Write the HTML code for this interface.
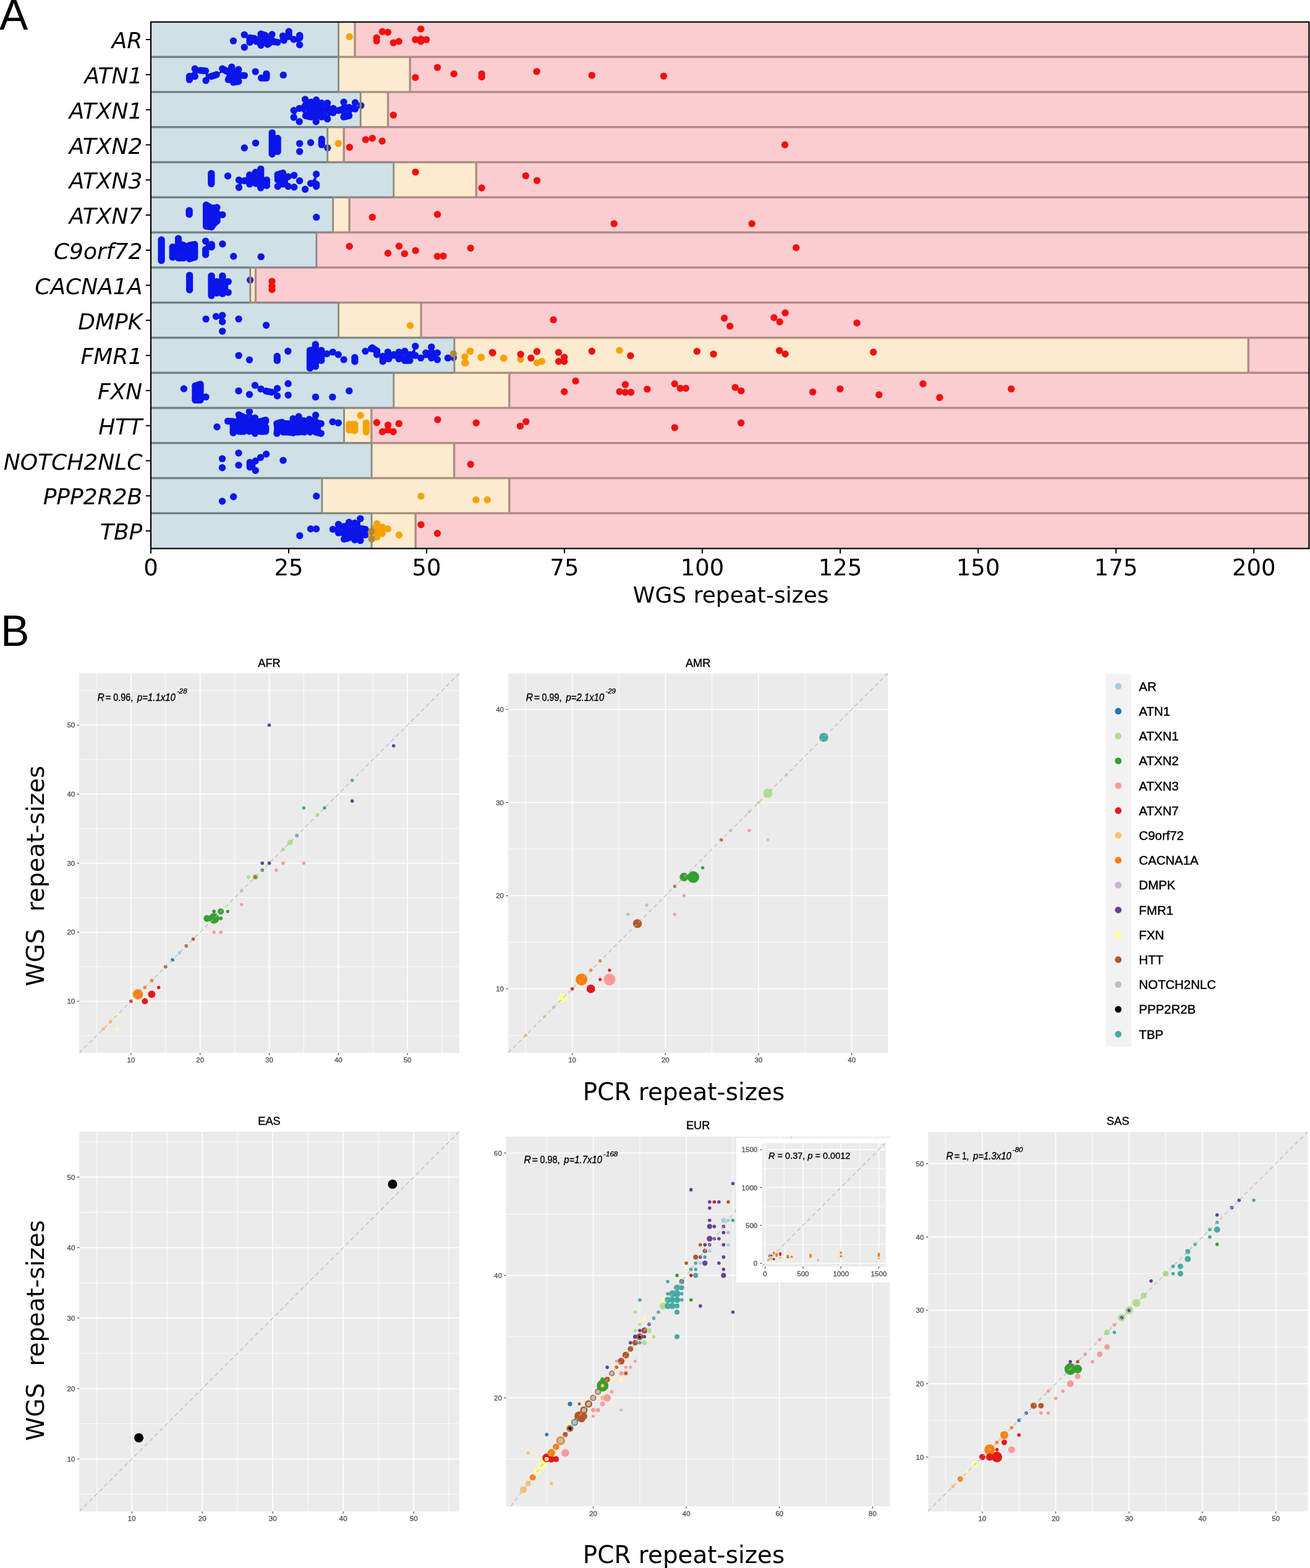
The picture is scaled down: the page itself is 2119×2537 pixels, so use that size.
<!DOCTYPE html>
<html><head><meta charset="utf-8"><title>Repeat sizes figure</title>
<style>
html,body{margin:0;padding:0;background:#fff;}
body{width:2119px;height:2537px;overflow:hidden;}
svg{display:block;}
.ylab{font-family:"DejaVu Sans",sans-serif;font-style:oblique;font-size:36.0px;fill:#000;}
.xtl{font-family:"DejaVu Sans",sans-serif;font-size:37px;fill:#000;}
.xlab{font-family:"DejaVu Sans",sans-serif;font-size:36px;fill:#000;}
.plab{font-family:"Liberation Sans",Arial,sans-serif;font-size:69.6px;fill:#000;}
.btick{font-family:"Liberation Sans",Arial,sans-serif;font-size:11.5px;fill:#4d4d4d;stroke:#4d4d4d;stroke-width:0.3px;}
.btitle{font-family:"Liberation Sans",Arial,sans-serif;font-size:18.3px;fill:#000;stroke:#000;stroke-width:0.4px;}
.bigl{font-family:"DejaVu Sans",sans-serif;font-size:38.9px;fill:#000;}
.ann{font-family:"Liberation Sans",Arial,sans-serif;font-size:15.7px;fill:#000;stroke:#000;stroke-width:0.35px;}
.itick{font-family:"Liberation Sans",Arial,sans-serif;font-size:11.6px;fill:#4d4d4d;stroke:#4d4d4d;stroke-width:0.3px;}
.iann{font-family:"Liberation Sans",Arial,sans-serif;font-size:14.5px;fill:#000;stroke:#000;stroke-width:0.35px;}
.leg{font-family:"Liberation Sans",Arial,sans-serif;font-size:20.4px;fill:#000;stroke:#000;stroke-width:0.45px;}
</style></head>
<body><svg width="2119" height="2537" viewBox="0 0 2119 2537">
<g id="panelA">
<rect x="244.00" y="35.60" width="303.31" height="56.79" fill="#cfe0e6"/>
<rect x="547.31" y="35.60" width="26.76" height="56.79" fill="#fcebcf"/>
<rect x="574.08" y="35.60" width="1543.33" height="56.79" fill="#facdd1"/>
<rect x="244.00" y="92.39" width="303.31" height="56.79" fill="#cfe0e6"/>
<rect x="547.31" y="92.39" width="115.97" height="56.79" fill="#fcebcf"/>
<rect x="663.29" y="92.39" width="1454.12" height="56.79" fill="#facdd1"/>
<rect x="244.00" y="149.18" width="339.00" height="56.79" fill="#cfe0e6"/>
<rect x="583.00" y="149.18" width="44.60" height="56.79" fill="#fcebcf"/>
<rect x="627.60" y="149.18" width="1489.81" height="56.79" fill="#facdd1"/>
<rect x="244.00" y="205.97" width="285.47" height="56.79" fill="#cfe0e6"/>
<rect x="529.47" y="205.97" width="26.76" height="56.79" fill="#fcebcf"/>
<rect x="556.23" y="205.97" width="1561.17" height="56.79" fill="#facdd1"/>
<rect x="244.00" y="262.76" width="392.52" height="56.79" fill="#cfe0e6"/>
<rect x="636.52" y="262.76" width="133.81" height="56.79" fill="#fcebcf"/>
<rect x="770.34" y="262.76" width="1347.07" height="56.79" fill="#facdd1"/>
<rect x="244.00" y="319.55" width="294.39" height="56.79" fill="#cfe0e6"/>
<rect x="538.39" y="319.55" width="26.76" height="56.79" fill="#fcebcf"/>
<rect x="565.16" y="319.55" width="1552.25" height="56.79" fill="#facdd1"/>
<rect x="244.00" y="376.34" width="267.63" height="56.79" fill="#cfe0e6"/>
<rect x="511.63" y="376.34" width="1605.78" height="56.79" fill="#facdd1"/>
<rect x="244.00" y="433.13" width="160.58" height="56.79" fill="#cfe0e6"/>
<rect x="404.58" y="433.13" width="8.92" height="56.79" fill="#fcebcf"/>
<rect x="413.50" y="433.13" width="1703.91" height="56.79" fill="#facdd1"/>
<rect x="244.00" y="489.92" width="303.31" height="56.79" fill="#cfe0e6"/>
<rect x="547.31" y="489.92" width="133.81" height="56.79" fill="#fcebcf"/>
<rect x="681.13" y="489.92" width="1436.28" height="56.79" fill="#facdd1"/>
<rect x="244.00" y="546.71" width="490.65" height="56.79" fill="#cfe0e6"/>
<rect x="734.65" y="546.71" width="1284.62" height="56.79" fill="#fcebcf"/>
<rect x="2019.28" y="546.71" width="98.13" height="56.79" fill="#facdd1"/>
<rect x="244.00" y="603.50" width="392.52" height="56.79" fill="#cfe0e6"/>
<rect x="636.52" y="603.50" width="187.34" height="56.79" fill="#fcebcf"/>
<rect x="823.87" y="603.50" width="1293.54" height="56.79" fill="#facdd1"/>
<rect x="244.00" y="660.29" width="312.23" height="56.79" fill="#cfe0e6"/>
<rect x="556.23" y="660.29" width="44.60" height="56.79" fill="#fcebcf"/>
<rect x="600.84" y="660.29" width="1516.57" height="56.79" fill="#facdd1"/>
<rect x="244.00" y="717.08" width="356.84" height="56.79" fill="#cfe0e6"/>
<rect x="600.84" y="717.08" width="133.81" height="56.79" fill="#fcebcf"/>
<rect x="734.65" y="717.08" width="1382.75" height="56.79" fill="#facdd1"/>
<rect x="244.00" y="773.87" width="276.55" height="56.79" fill="#cfe0e6"/>
<rect x="520.55" y="773.87" width="303.31" height="56.79" fill="#fcebcf"/>
<rect x="823.87" y="773.87" width="1293.54" height="56.79" fill="#facdd1"/>
<rect x="244.00" y="830.66" width="356.84" height="56.79" fill="#cfe0e6"/>
<rect x="600.84" y="830.66" width="71.37" height="56.79" fill="#fcebcf"/>
<rect x="672.21" y="830.66" width="1445.20" height="56.79" fill="#facdd1"/>
<circle cx="377.4" cy="66.1" r="5.7" fill="#0a16ea"/>
<circle cx="395.3" cy="56.1" r="5.7" fill="#0a16ea"/>
<circle cx="395.3" cy="76.5" r="5.7" fill="#0a16ea"/>
<circle cx="404.1" cy="61.3" r="5.7" fill="#0a16ea"/>
<circle cx="404.1" cy="68.5" r="5.7" fill="#0a16ea"/>
<circle cx="411.3" cy="62.1" r="5.7" fill="#0a16ea"/>
<circle cx="414.5" cy="66.9" r="5.7" fill="#0a16ea"/>
<circle cx="422.1" cy="55.0" r="5.7" fill="#0a16ea"/>
<circle cx="422.1" cy="73.3" r="5.7" fill="#0a16ea"/>
<circle cx="422.5" cy="68.5" r="5.7" fill="#0a16ea"/>
<circle cx="428.8" cy="57.3" r="5.7" fill="#0a16ea"/>
<circle cx="428.8" cy="66.9" r="5.7" fill="#0a16ea"/>
<circle cx="432.8" cy="71.7" r="5.7" fill="#0a16ea"/>
<circle cx="440.0" cy="55.8" r="5.7" fill="#0a16ea"/>
<circle cx="440.0" cy="66.9" r="5.7" fill="#0a16ea"/>
<circle cx="448.8" cy="68.5" r="5.7" fill="#0a16ea"/>
<circle cx="457.6" cy="58.1" r="5.7" fill="#0a16ea"/>
<circle cx="459.2" cy="65.3" r="5.7" fill="#0a16ea"/>
<circle cx="467.2" cy="51.0" r="5.7" fill="#0a16ea"/>
<circle cx="467.2" cy="58.9" r="5.7" fill="#0a16ea"/>
<circle cx="475.1" cy="63.7" r="5.7" fill="#0a16ea"/>
<circle cx="484.7" cy="57.3" r="5.7" fill="#0a16ea"/>
<circle cx="484.7" cy="61.3" r="5.7" fill="#0a16ea"/>
<circle cx="484.7" cy="72.5" r="5.7" fill="#0a16ea"/>
<circle cx="306.4" cy="128.9" r="5.7" fill="#0a16ea"/>
<circle cx="306.4" cy="123.5" r="5.7" fill="#0a16ea"/>
<circle cx="315.3" cy="111.2" r="5.7" fill="#0a16ea"/>
<circle cx="315.3" cy="123.5" r="5.7" fill="#0a16ea"/>
<circle cx="324.2" cy="113.9" r="5.7" fill="#0a16ea"/>
<circle cx="332.4" cy="114.6" r="5.7" fill="#0a16ea"/>
<circle cx="333.1" cy="130.3" r="5.7" fill="#0a16ea"/>
<circle cx="342.0" cy="123.5" r="5.7" fill="#0a16ea"/>
<circle cx="350.2" cy="120.7" r="5.7" fill="#0a16ea"/>
<circle cx="359.8" cy="111.2" r="5.7" fill="#0a16ea"/>
<circle cx="366.6" cy="115.3" r="5.7" fill="#0a16ea"/>
<circle cx="369.4" cy="128.9" r="5.7" fill="#0a16ea"/>
<circle cx="374.8" cy="108.4" r="5.7" fill="#0a16ea"/>
<circle cx="377.6" cy="119.4" r="5.7" fill="#0a16ea"/>
<circle cx="377.6" cy="133.1" r="5.7" fill="#0a16ea"/>
<circle cx="385.8" cy="112.5" r="5.7" fill="#0a16ea"/>
<circle cx="385.8" cy="131.7" r="5.7" fill="#0a16ea"/>
<circle cx="387.2" cy="122.1" r="5.7" fill="#0a16ea"/>
<circle cx="395.4" cy="122.1" r="5.7" fill="#0a16ea"/>
<circle cx="372.1" cy="123.5" r="5.7" fill="#0a16ea"/>
<circle cx="380.3" cy="124.8" r="5.7" fill="#0a16ea"/>
<circle cx="413.2" cy="115.9" r="5.7" fill="#0a16ea"/>
<circle cx="422.7" cy="126.2" r="5.7" fill="#0a16ea"/>
<circle cx="430.9" cy="119.4" r="5.7" fill="#0a16ea"/>
<circle cx="430.9" cy="126.2" r="5.7" fill="#0a16ea"/>
<circle cx="458.3" cy="121.4" r="5.7" fill="#0a16ea"/>
<circle cx="475.2" cy="178.8" r="5.7" fill="#0a16ea"/>
<circle cx="475.2" cy="189.9" r="5.7" fill="#0a16ea"/>
<circle cx="484.2" cy="175.4" r="5.7" fill="#0a16ea"/>
<circle cx="484.2" cy="196.8" r="5.7" fill="#0a16ea"/>
<circle cx="493.6" cy="160.8" r="5.7" fill="#0a16ea"/>
<circle cx="494.5" cy="172.0" r="5.7" fill="#0a16ea"/>
<circle cx="494.5" cy="187.3" r="5.7" fill="#0a16ea"/>
<circle cx="503.0" cy="165.1" r="5.7" fill="#0a16ea"/>
<circle cx="503.0" cy="177.9" r="5.7" fill="#0a16ea"/>
<circle cx="503.0" cy="189.1" r="5.7" fill="#0a16ea"/>
<circle cx="511.6" cy="161.7" r="5.7" fill="#0a16ea"/>
<circle cx="511.6" cy="173.7" r="5.7" fill="#0a16ea"/>
<circle cx="511.6" cy="184.8" r="5.7" fill="#0a16ea"/>
<circle cx="511.2" cy="196.8" r="5.7" fill="#0a16ea"/>
<circle cx="520.1" cy="166.8" r="5.7" fill="#0a16ea"/>
<circle cx="520.1" cy="178.8" r="5.7" fill="#0a16ea"/>
<circle cx="520.1" cy="189.1" r="5.7" fill="#0a16ea"/>
<circle cx="529.6" cy="166.8" r="5.7" fill="#0a16ea"/>
<circle cx="529.6" cy="177.9" r="5.7" fill="#0a16ea"/>
<circle cx="529.6" cy="192.5" r="5.7" fill="#0a16ea"/>
<circle cx="539.0" cy="175.4" r="5.7" fill="#0a16ea"/>
<circle cx="539.0" cy="182.2" r="5.7" fill="#0a16ea"/>
<circle cx="547.5" cy="178.8" r="5.7" fill="#0a16ea"/>
<circle cx="556.1" cy="165.1" r="5.7" fill="#0a16ea"/>
<circle cx="556.1" cy="176.2" r="5.7" fill="#0a16ea"/>
<circle cx="556.1" cy="189.1" r="5.7" fill="#0a16ea"/>
<circle cx="564.6" cy="173.7" r="5.7" fill="#0a16ea"/>
<circle cx="564.6" cy="187.3" r="5.7" fill="#0a16ea"/>
<circle cx="574.5" cy="166.0" r="5.7" fill="#0a16ea"/>
<circle cx="574.5" cy="176.2" r="5.7" fill="#0a16ea"/>
<circle cx="395.3" cy="239.3" r="5.7" fill="#0a16ea"/>
<circle cx="413.5" cy="231.4" r="5.7" fill="#0a16ea"/>
<circle cx="440.2" cy="214.9" r="5.7" fill="#0a16ea"/>
<circle cx="440.2" cy="221.8" r="5.7" fill="#0a16ea"/>
<circle cx="440.2" cy="228.6" r="5.7" fill="#0a16ea"/>
<circle cx="440.2" cy="235.5" r="5.7" fill="#0a16ea"/>
<circle cx="440.2" cy="242.3" r="5.7" fill="#0a16ea"/>
<circle cx="440.2" cy="249.2" r="5.7" fill="#0a16ea"/>
<circle cx="449.1" cy="223.8" r="5.7" fill="#0a16ea"/>
<circle cx="449.1" cy="230.7" r="5.7" fill="#0a16ea"/>
<circle cx="449.1" cy="237.5" r="5.7" fill="#0a16ea"/>
<circle cx="449.1" cy="245.1" r="5.7" fill="#0a16ea"/>
<circle cx="484.7" cy="232.1" r="5.7" fill="#0a16ea"/>
<circle cx="484.7" cy="245.1" r="5.7" fill="#0a16ea"/>
<circle cx="502.5" cy="230.7" r="5.7" fill="#0a16ea"/>
<circle cx="520.3" cy="225.2" r="5.7" fill="#0a16ea"/>
<circle cx="520.3" cy="234.1" r="5.7" fill="#0a16ea"/>
<circle cx="341.8" cy="280.6" r="5.7" fill="#0a16ea"/>
<circle cx="341.8" cy="285.9" r="5.7" fill="#0a16ea"/>
<circle cx="341.8" cy="291.9" r="5.7" fill="#0a16ea"/>
<circle cx="341.8" cy="297.3" r="5.7" fill="#0a16ea"/>
<circle cx="368.5" cy="284.7" r="5.7" fill="#0a16ea"/>
<circle cx="386.5" cy="291.3" r="5.7" fill="#0a16ea"/>
<circle cx="386.5" cy="303.3" r="5.7" fill="#0a16ea"/>
<circle cx="395.4" cy="292.5" r="5.7" fill="#0a16ea"/>
<circle cx="403.8" cy="283.0" r="5.7" fill="#0a16ea"/>
<circle cx="403.8" cy="290.7" r="5.7" fill="#0a16ea"/>
<circle cx="403.8" cy="297.9" r="5.7" fill="#0a16ea"/>
<circle cx="413.4" cy="278.8" r="5.7" fill="#0a16ea"/>
<circle cx="413.4" cy="289.5" r="5.7" fill="#0a16ea"/>
<circle cx="413.4" cy="296.7" r="5.7" fill="#0a16ea"/>
<circle cx="421.8" cy="273.4" r="5.7" fill="#0a16ea"/>
<circle cx="421.8" cy="281.2" r="5.7" fill="#0a16ea"/>
<circle cx="421.8" cy="289.5" r="5.7" fill="#0a16ea"/>
<circle cx="421.8" cy="297.9" r="5.7" fill="#0a16ea"/>
<circle cx="421.8" cy="303.9" r="5.7" fill="#0a16ea"/>
<circle cx="431.4" cy="291.3" r="5.7" fill="#0a16ea"/>
<circle cx="431.4" cy="300.3" r="5.7" fill="#0a16ea"/>
<circle cx="449.3" cy="282.4" r="5.7" fill="#0a16ea"/>
<circle cx="449.3" cy="290.7" r="5.7" fill="#0a16ea"/>
<circle cx="449.3" cy="301.5" r="5.7" fill="#0a16ea"/>
<circle cx="457.7" cy="280.0" r="5.7" fill="#0a16ea"/>
<circle cx="457.7" cy="289.5" r="5.7" fill="#0a16ea"/>
<circle cx="457.7" cy="297.9" r="5.7" fill="#0a16ea"/>
<circle cx="466.1" cy="285.9" r="5.7" fill="#0a16ea"/>
<circle cx="466.1" cy="301.5" r="5.7" fill="#0a16ea"/>
<circle cx="475.7" cy="283.6" r="5.7" fill="#0a16ea"/>
<circle cx="475.7" cy="302.7" r="5.7" fill="#0a16ea"/>
<circle cx="484.6" cy="292.5" r="5.7" fill="#0a16ea"/>
<circle cx="493.6" cy="306.3" r="5.7" fill="#0a16ea"/>
<circle cx="502.6" cy="296.7" r="5.7" fill="#0a16ea"/>
<circle cx="511.6" cy="281.8" r="5.7" fill="#0a16ea"/>
<circle cx="511.6" cy="297.9" r="5.7" fill="#0a16ea"/>
<circle cx="511.6" cy="301.5" r="5.7" fill="#0a16ea"/>
<circle cx="306.1" cy="340.6" r="5.7" fill="#0a16ea"/>
<circle cx="306.1" cy="346.7" r="5.7" fill="#0a16ea"/>
<circle cx="333.5" cy="331.7" r="5.7" fill="#0a16ea"/>
<circle cx="333.5" cy="338.5" r="5.7" fill="#0a16ea"/>
<circle cx="333.5" cy="345.4" r="5.7" fill="#0a16ea"/>
<circle cx="333.5" cy="352.2" r="5.7" fill="#0a16ea"/>
<circle cx="333.5" cy="359.1" r="5.7" fill="#0a16ea"/>
<circle cx="333.5" cy="365.9" r="5.7" fill="#0a16ea"/>
<circle cx="342.0" cy="337.2" r="5.7" fill="#0a16ea"/>
<circle cx="342.0" cy="367.3" r="5.7" fill="#0a16ea"/>
<circle cx="350.9" cy="335.8" r="5.7" fill="#0a16ea"/>
<circle cx="350.9" cy="345.4" r="5.7" fill="#0a16ea"/>
<circle cx="350.9" cy="357.7" r="5.7" fill="#0a16ea"/>
<circle cx="359.8" cy="347.4" r="5.7" fill="#0a16ea"/>
<circle cx="511.7" cy="351.5" r="5.7" fill="#0a16ea"/>
<circle cx="261.1" cy="388.0" r="5.7" fill="#0a16ea"/>
<circle cx="261.1" cy="394.8" r="5.7" fill="#0a16ea"/>
<circle cx="261.1" cy="401.7" r="5.7" fill="#0a16ea"/>
<circle cx="261.1" cy="408.5" r="5.7" fill="#0a16ea"/>
<circle cx="261.1" cy="415.4" r="5.7" fill="#0a16ea"/>
<circle cx="261.1" cy="421.5" r="5.7" fill="#0a16ea"/>
<circle cx="288.5" cy="385.9" r="5.7" fill="#0a16ea"/>
<circle cx="288.5" cy="394.2" r="5.7" fill="#0a16ea"/>
<circle cx="288.5" cy="405.1" r="5.7" fill="#0a16ea"/>
<circle cx="288.5" cy="417.4" r="5.7" fill="#0a16ea"/>
<circle cx="279.2" cy="407.8" r="5.7" fill="#0a16ea"/>
<circle cx="297.0" cy="396.9" r="5.7" fill="#0a16ea"/>
<circle cx="297.0" cy="410.6" r="5.7" fill="#0a16ea"/>
<circle cx="306.6" cy="396.9" r="5.7" fill="#0a16ea"/>
<circle cx="306.6" cy="418.8" r="5.7" fill="#0a16ea"/>
<circle cx="314.8" cy="395.5" r="5.7" fill="#0a16ea"/>
<circle cx="314.8" cy="403.7" r="5.7" fill="#0a16ea"/>
<circle cx="314.8" cy="416.1" r="5.7" fill="#0a16ea"/>
<circle cx="332.6" cy="390.1" r="5.7" fill="#0a16ea"/>
<circle cx="332.6" cy="403.7" r="5.7" fill="#0a16ea"/>
<circle cx="332.6" cy="411.9" r="5.7" fill="#0a16ea"/>
<circle cx="342.2" cy="395.5" r="5.7" fill="#0a16ea"/>
<circle cx="342.2" cy="399.6" r="5.7" fill="#0a16ea"/>
<circle cx="359.9" cy="394.8" r="5.7" fill="#0a16ea"/>
<circle cx="377.7" cy="414.7" r="5.7" fill="#0a16ea"/>
<circle cx="422.2" cy="415.4" r="5.7" fill="#0a16ea"/>
<circle cx="306.6" cy="445.4" r="5.7" fill="#0a16ea"/>
<circle cx="306.6" cy="451.5" r="5.7" fill="#0a16ea"/>
<circle cx="306.6" cy="457.7" r="5.7" fill="#0a16ea"/>
<circle cx="306.6" cy="463.8" r="5.7" fill="#0a16ea"/>
<circle cx="306.6" cy="469.0" r="5.7" fill="#0a16ea"/>
<circle cx="342.0" cy="446.4" r="5.7" fill="#0a16ea"/>
<circle cx="342.0" cy="452.6" r="5.7" fill="#0a16ea"/>
<circle cx="342.0" cy="458.7" r="5.7" fill="#0a16ea"/>
<circle cx="342.0" cy="464.9" r="5.7" fill="#0a16ea"/>
<circle cx="342.0" cy="472.1" r="5.7" fill="#0a16ea"/>
<circle cx="342.0" cy="478.2" r="5.7" fill="#0a16ea"/>
<circle cx="350.7" cy="455.6" r="5.7" fill="#0a16ea"/>
<circle cx="350.7" cy="464.9" r="5.7" fill="#0a16ea"/>
<circle cx="350.7" cy="474.1" r="5.7" fill="#0a16ea"/>
<circle cx="359.9" cy="446.4" r="5.7" fill="#0a16ea"/>
<circle cx="359.9" cy="453.6" r="5.7" fill="#0a16ea"/>
<circle cx="359.9" cy="461.8" r="5.7" fill="#0a16ea"/>
<circle cx="359.9" cy="470.0" r="5.7" fill="#0a16ea"/>
<circle cx="359.9" cy="475.1" r="5.7" fill="#0a16ea"/>
<circle cx="369.2" cy="455.6" r="5.7" fill="#0a16ea"/>
<circle cx="369.2" cy="473.1" r="5.7" fill="#0a16ea"/>
<circle cx="333.1" cy="516.1" r="5.7" fill="#0a16ea"/>
<circle cx="349.5" cy="512.0" r="5.7" fill="#0a16ea"/>
<circle cx="359.7" cy="510.3" r="5.7" fill="#0a16ea"/>
<circle cx="359.7" cy="520.5" r="5.7" fill="#0a16ea"/>
<circle cx="359.7" cy="535.9" r="5.7" fill="#0a16ea"/>
<circle cx="386.1" cy="516.1" r="5.7" fill="#0a16ea"/>
<circle cx="430.6" cy="526.3" r="5.7" fill="#0a16ea"/>
<circle cx="386.1" cy="575.1" r="5.7" fill="#0a16ea"/>
<circle cx="403.5" cy="582.2" r="5.7" fill="#0a16ea"/>
<circle cx="448.3" cy="576.5" r="5.7" fill="#0a16ea"/>
<circle cx="448.3" cy="583.3" r="5.7" fill="#0a16ea"/>
<circle cx="465.8" cy="568.3" r="5.7" fill="#0a16ea"/>
<circle cx="501.4" cy="566.9" r="5.7" fill="#0a16ea"/>
<circle cx="501.4" cy="575.1" r="5.7" fill="#0a16ea"/>
<circle cx="501.4" cy="583.3" r="5.7" fill="#0a16ea"/>
<circle cx="501.4" cy="591.5" r="5.7" fill="#0a16ea"/>
<circle cx="501.4" cy="595.6" r="5.7" fill="#0a16ea"/>
<circle cx="510.3" cy="557.3" r="5.7" fill="#0a16ea"/>
<circle cx="510.3" cy="565.5" r="5.7" fill="#0a16ea"/>
<circle cx="510.3" cy="575.1" r="5.7" fill="#0a16ea"/>
<circle cx="510.3" cy="584.7" r="5.7" fill="#0a16ea"/>
<circle cx="510.3" cy="592.9" r="5.7" fill="#0a16ea"/>
<circle cx="519.8" cy="566.9" r="5.7" fill="#0a16ea"/>
<circle cx="519.8" cy="575.1" r="5.7" fill="#0a16ea"/>
<circle cx="519.8" cy="583.3" r="5.7" fill="#0a16ea"/>
<circle cx="528.7" cy="572.4" r="5.7" fill="#0a16ea"/>
<circle cx="538.3" cy="569.6" r="5.7" fill="#0a16ea"/>
<circle cx="547.2" cy="573.7" r="5.7" fill="#0a16ea"/>
<circle cx="556.1" cy="581.9" r="5.7" fill="#0a16ea"/>
<circle cx="573.9" cy="578.5" r="5.7" fill="#0a16ea"/>
<circle cx="573.9" cy="584.7" r="5.7" fill="#0a16ea"/>
<circle cx="591.0" cy="568.3" r="5.7" fill="#0a16ea"/>
<circle cx="600.6" cy="564.2" r="5.7" fill="#0a16ea"/>
<circle cx="602.1" cy="562.8" r="5.7" fill="#0a16ea"/>
<circle cx="609.6" cy="567.6" r="5.7" fill="#0a16ea"/>
<circle cx="609.6" cy="573.7" r="5.7" fill="#0a16ea"/>
<circle cx="619.2" cy="576.5" r="5.7" fill="#0a16ea"/>
<circle cx="619.2" cy="584.7" r="5.7" fill="#0a16ea"/>
<circle cx="627.4" cy="569.6" r="5.7" fill="#0a16ea"/>
<circle cx="628.7" cy="580.6" r="5.7" fill="#0a16ea"/>
<circle cx="636.9" cy="573.7" r="5.7" fill="#0a16ea"/>
<circle cx="645.2" cy="569.6" r="5.7" fill="#0a16ea"/>
<circle cx="645.2" cy="580.6" r="5.7" fill="#0a16ea"/>
<circle cx="654.7" cy="568.3" r="5.7" fill="#0a16ea"/>
<circle cx="654.7" cy="583.3" r="5.7" fill="#0a16ea"/>
<circle cx="662.9" cy="573.7" r="5.7" fill="#0a16ea"/>
<circle cx="662.9" cy="583.3" r="5.7" fill="#0a16ea"/>
<circle cx="671.8" cy="560.1" r="5.7" fill="#0a16ea"/>
<circle cx="671.8" cy="575.1" r="5.7" fill="#0a16ea"/>
<circle cx="680.7" cy="579.2" r="5.7" fill="#0a16ea"/>
<circle cx="688.9" cy="571.0" r="5.7" fill="#0a16ea"/>
<circle cx="697.8" cy="561.4" r="5.7" fill="#0a16ea"/>
<circle cx="697.8" cy="573.7" r="5.7" fill="#0a16ea"/>
<circle cx="697.8" cy="579.2" r="5.7" fill="#0a16ea"/>
<circle cx="707.4" cy="571.0" r="5.7" fill="#0a16ea"/>
<circle cx="707.4" cy="581.9" r="5.7" fill="#0a16ea"/>
<circle cx="724.5" cy="579.2" r="5.7" fill="#0a16ea"/>
<circle cx="297.4" cy="629.0" r="5.7" fill="#0a16ea"/>
<circle cx="315.9" cy="624.2" r="5.7" fill="#0a16ea"/>
<circle cx="315.9" cy="632.8" r="5.7" fill="#0a16ea"/>
<circle cx="315.9" cy="641.3" r="5.7" fill="#0a16ea"/>
<circle cx="315.9" cy="647.3" r="5.7" fill="#0a16ea"/>
<circle cx="324.1" cy="621.7" r="5.7" fill="#0a16ea"/>
<circle cx="324.1" cy="629.4" r="5.7" fill="#0a16ea"/>
<circle cx="324.1" cy="637.9" r="5.7" fill="#0a16ea"/>
<circle cx="324.1" cy="647.3" r="5.7" fill="#0a16ea"/>
<circle cx="333.0" cy="642.2" r="5.7" fill="#0a16ea"/>
<circle cx="386.0" cy="632.4" r="5.7" fill="#0a16ea"/>
<circle cx="403.5" cy="638.3" r="5.7" fill="#0a16ea"/>
<circle cx="412.5" cy="623.4" r="5.7" fill="#0a16ea"/>
<circle cx="422.0" cy="629.4" r="5.7" fill="#0a16ea"/>
<circle cx="430.5" cy="632.8" r="5.7" fill="#0a16ea"/>
<circle cx="439.1" cy="634.5" r="5.7" fill="#0a16ea"/>
<circle cx="448.5" cy="628.5" r="5.7" fill="#0a16ea"/>
<circle cx="448.5" cy="640.5" r="5.7" fill="#0a16ea"/>
<circle cx="466.1" cy="620.8" r="5.7" fill="#0a16ea"/>
<circle cx="466.1" cy="639.3" r="5.7" fill="#0a16ea"/>
<circle cx="510.5" cy="642.4" r="5.7" fill="#0a16ea"/>
<circle cx="537.9" cy="642.4" r="5.7" fill="#0a16ea"/>
<circle cx="564.8" cy="632.4" r="5.7" fill="#0a16ea"/>
<circle cx="351.0" cy="690.8" r="5.7" fill="#0a16ea"/>
<circle cx="368.6" cy="681.4" r="5.7" fill="#0a16ea"/>
<circle cx="377.2" cy="688.8" r="5.7" fill="#0a16ea"/>
<circle cx="377.2" cy="700.2" r="5.7" fill="#0a16ea"/>
<circle cx="386.3" cy="671.1" r="5.7" fill="#0a16ea"/>
<circle cx="386.3" cy="680.8" r="5.7" fill="#0a16ea"/>
<circle cx="386.3" cy="692.2" r="5.7" fill="#0a16ea"/>
<circle cx="394.3" cy="675.1" r="5.7" fill="#0a16ea"/>
<circle cx="394.3" cy="686.5" r="5.7" fill="#0a16ea"/>
<circle cx="394.3" cy="697.9" r="5.7" fill="#0a16ea"/>
<circle cx="403.4" cy="666.0" r="5.7" fill="#0a16ea"/>
<circle cx="403.4" cy="686.5" r="5.7" fill="#0a16ea"/>
<circle cx="412.5" cy="676.2" r="5.7" fill="#0a16ea"/>
<circle cx="412.5" cy="687.6" r="5.7" fill="#0a16ea"/>
<circle cx="412.5" cy="701.3" r="5.7" fill="#0a16ea"/>
<circle cx="421.7" cy="683.1" r="5.7" fill="#0a16ea"/>
<circle cx="421.7" cy="697.9" r="5.7" fill="#0a16ea"/>
<circle cx="429.6" cy="679.7" r="5.7" fill="#0a16ea"/>
<circle cx="429.6" cy="692.2" r="5.7" fill="#0a16ea"/>
<circle cx="447.9" cy="685.4" r="5.7" fill="#0a16ea"/>
<circle cx="447.9" cy="701.3" r="5.7" fill="#0a16ea"/>
<circle cx="455.9" cy="683.1" r="5.7" fill="#0a16ea"/>
<circle cx="455.9" cy="693.3" r="5.7" fill="#0a16ea"/>
<circle cx="465.0" cy="686.5" r="5.7" fill="#0a16ea"/>
<circle cx="474.1" cy="677.4" r="5.7" fill="#0a16ea"/>
<circle cx="474.1" cy="687.6" r="5.7" fill="#0a16ea"/>
<circle cx="474.1" cy="700.2" r="5.7" fill="#0a16ea"/>
<circle cx="483.2" cy="674.0" r="5.7" fill="#0a16ea"/>
<circle cx="483.2" cy="686.5" r="5.7" fill="#0a16ea"/>
<circle cx="491.2" cy="680.8" r="5.7" fill="#0a16ea"/>
<circle cx="491.2" cy="697.9" r="5.7" fill="#0a16ea"/>
<circle cx="500.3" cy="678.5" r="5.7" fill="#0a16ea"/>
<circle cx="500.3" cy="691.1" r="5.7" fill="#0a16ea"/>
<circle cx="510.6" cy="671.7" r="5.7" fill="#0a16ea"/>
<circle cx="510.6" cy="684.2" r="5.7" fill="#0a16ea"/>
<circle cx="510.6" cy="696.8" r="5.7" fill="#0a16ea"/>
<circle cx="519.2" cy="685.4" r="5.7" fill="#0a16ea"/>
<circle cx="519.2" cy="701.3" r="5.7" fill="#0a16ea"/>
<circle cx="538.1" cy="682.5" r="5.7" fill="#0a16ea"/>
<circle cx="547.2" cy="684.2" r="5.7" fill="#0a16ea"/>
<circle cx="359.5" cy="742.1" r="5.7" fill="#0a16ea"/>
<circle cx="359.5" cy="756.7" r="5.7" fill="#0a16ea"/>
<circle cx="386.0" cy="733.0" r="5.7" fill="#0a16ea"/>
<circle cx="386.0" cy="752.6" r="5.7" fill="#0a16ea"/>
<circle cx="404.2" cy="748.1" r="5.7" fill="#0a16ea"/>
<circle cx="404.2" cy="755.8" r="5.7" fill="#0a16ea"/>
<circle cx="413.3" cy="745.8" r="5.7" fill="#0a16ea"/>
<circle cx="413.3" cy="761.3" r="5.7" fill="#0a16ea"/>
<circle cx="421.5" cy="740.3" r="5.7" fill="#0a16ea"/>
<circle cx="430.6" cy="734.8" r="5.7" fill="#0a16ea"/>
<circle cx="458.0" cy="744.9" r="5.7" fill="#0a16ea"/>
<circle cx="359.5" cy="811.0" r="5.7" fill="#0a16ea"/>
<circle cx="377.7" cy="803.7" r="5.7" fill="#0a16ea"/>
<circle cx="511.8" cy="802.8" r="5.7" fill="#0a16ea"/>
<circle cx="484.8" cy="866.6" r="5.7" fill="#0a16ea"/>
<circle cx="502.5" cy="855.8" r="5.7" fill="#0a16ea"/>
<circle cx="511.6" cy="855.8" r="5.7" fill="#0a16ea"/>
<circle cx="538.4" cy="856.4" r="5.7" fill="#0a16ea"/>
<circle cx="547.5" cy="848.4" r="5.7" fill="#0a16ea"/>
<circle cx="547.5" cy="862.1" r="5.7" fill="#0a16ea"/>
<circle cx="556.7" cy="851.8" r="5.7" fill="#0a16ea"/>
<circle cx="556.7" cy="863.2" r="5.7" fill="#0a16ea"/>
<circle cx="556.7" cy="872.3" r="5.7" fill="#0a16ea"/>
<circle cx="564.6" cy="845.0" r="5.7" fill="#0a16ea"/>
<circle cx="564.6" cy="857.5" r="5.7" fill="#0a16ea"/>
<circle cx="564.6" cy="870.0" r="5.7" fill="#0a16ea"/>
<circle cx="573.8" cy="846.1" r="5.7" fill="#0a16ea"/>
<circle cx="573.8" cy="858.6" r="5.7" fill="#0a16ea"/>
<circle cx="573.8" cy="873.5" r="5.7" fill="#0a16ea"/>
<circle cx="582.9" cy="839.3" r="5.7" fill="#0a16ea"/>
<circle cx="582.9" cy="855.2" r="5.7" fill="#0a16ea"/>
<circle cx="582.9" cy="874.6" r="5.7" fill="#0a16ea"/>
<circle cx="590.9" cy="856.4" r="5.7" fill="#0a16ea"/>
<circle cx="590.9" cy="865.5" r="5.7" fill="#0a16ea"/>
<circle cx="582.9" cy="865.5" r="5.7" fill="#0a16ea"/>
<circle cx="570.3" cy="863.2" r="5.7" fill="#0a16ea"/>
<circle cx="342.0" cy="345.4" r="5.7" fill="#0a16ea"/>
<circle cx="342.0" cy="353.6" r="5.7" fill="#0a16ea"/>
<circle cx="342.0" cy="359.1" r="5.7" fill="#0a16ea"/>
<circle cx="350.9" cy="352.2" r="5.7" fill="#0a16ea"/>
<circle cx="344.7" cy="363.2" r="5.7" fill="#0a16ea"/>
<circle cx="337.9" cy="334.4" r="5.7" fill="#0a16ea"/>
<circle cx="337.9" cy="361.8" r="5.7" fill="#0a16ea"/>
<circle cx="279.2" cy="399.6" r="5.7" fill="#0a16ea"/>
<circle cx="279.2" cy="416.1" r="5.7" fill="#0a16ea"/>
<circle cx="288.8" cy="399.6" r="5.7" fill="#0a16ea"/>
<circle cx="297.0" cy="403.7" r="5.7" fill="#0a16ea"/>
<circle cx="297.0" cy="417.4" r="5.7" fill="#0a16ea"/>
<circle cx="306.6" cy="413.3" r="5.7" fill="#0a16ea"/>
<circle cx="314.8" cy="409.2" r="5.7" fill="#0a16ea"/>
<circle cx="309.3" cy="402.4" r="5.7" fill="#0a16ea"/>
<circle cx="377.2" cy="681.9" r="5.7" fill="#0a16ea"/>
<circle cx="377.2" cy="691.1" r="5.7" fill="#0a16ea"/>
<circle cx="377.2" cy="697.9" r="5.7" fill="#0a16ea"/>
<circle cx="386.3" cy="681.9" r="5.7" fill="#0a16ea"/>
<circle cx="386.3" cy="691.1" r="5.7" fill="#0a16ea"/>
<circle cx="386.3" cy="697.9" r="5.7" fill="#0a16ea"/>
<circle cx="394.3" cy="681.9" r="5.7" fill="#0a16ea"/>
<circle cx="394.3" cy="691.1" r="5.7" fill="#0a16ea"/>
<circle cx="394.3" cy="697.9" r="5.7" fill="#0a16ea"/>
<circle cx="403.4" cy="681.9" r="5.7" fill="#0a16ea"/>
<circle cx="403.4" cy="691.1" r="5.7" fill="#0a16ea"/>
<circle cx="403.4" cy="697.9" r="5.7" fill="#0a16ea"/>
<circle cx="412.5" cy="681.9" r="5.7" fill="#0a16ea"/>
<circle cx="412.5" cy="691.1" r="5.7" fill="#0a16ea"/>
<circle cx="412.5" cy="697.9" r="5.7" fill="#0a16ea"/>
<circle cx="421.7" cy="681.9" r="5.7" fill="#0a16ea"/>
<circle cx="421.7" cy="691.1" r="5.7" fill="#0a16ea"/>
<circle cx="421.7" cy="697.9" r="5.7" fill="#0a16ea"/>
<circle cx="429.6" cy="681.9" r="5.7" fill="#0a16ea"/>
<circle cx="429.6" cy="691.1" r="5.7" fill="#0a16ea"/>
<circle cx="429.6" cy="697.9" r="5.7" fill="#0a16ea"/>
<circle cx="449.0" cy="685.4" r="5.7" fill="#0a16ea"/>
<circle cx="449.0" cy="693.3" r="5.7" fill="#0a16ea"/>
<circle cx="449.0" cy="699.0" r="5.7" fill="#0a16ea"/>
<circle cx="458.1" cy="685.4" r="5.7" fill="#0a16ea"/>
<circle cx="458.1" cy="693.3" r="5.7" fill="#0a16ea"/>
<circle cx="458.1" cy="699.0" r="5.7" fill="#0a16ea"/>
<circle cx="466.1" cy="685.4" r="5.7" fill="#0a16ea"/>
<circle cx="466.1" cy="693.3" r="5.7" fill="#0a16ea"/>
<circle cx="466.1" cy="699.0" r="5.7" fill="#0a16ea"/>
<circle cx="475.3" cy="685.4" r="5.7" fill="#0a16ea"/>
<circle cx="475.3" cy="693.3" r="5.7" fill="#0a16ea"/>
<circle cx="475.3" cy="699.0" r="5.7" fill="#0a16ea"/>
<circle cx="483.2" cy="685.4" r="5.7" fill="#0a16ea"/>
<circle cx="483.2" cy="693.3" r="5.7" fill="#0a16ea"/>
<circle cx="483.2" cy="699.0" r="5.7" fill="#0a16ea"/>
<circle cx="492.4" cy="685.4" r="5.7" fill="#0a16ea"/>
<circle cx="492.4" cy="693.3" r="5.7" fill="#0a16ea"/>
<circle cx="492.4" cy="699.0" r="5.7" fill="#0a16ea"/>
<circle cx="501.5" cy="685.4" r="5.7" fill="#0a16ea"/>
<circle cx="501.5" cy="693.3" r="5.7" fill="#0a16ea"/>
<circle cx="501.5" cy="699.0" r="5.7" fill="#0a16ea"/>
<circle cx="510.6" cy="685.4" r="5.7" fill="#0a16ea"/>
<circle cx="510.6" cy="693.3" r="5.7" fill="#0a16ea"/>
<circle cx="510.6" cy="699.0" r="5.7" fill="#0a16ea"/>
<circle cx="404.1" cy="64.9" r="5.7" fill="#0a16ea"/>
<circle cx="407.7" cy="61.7" r="5.7" fill="#0a16ea"/>
<circle cx="412.9" cy="64.5" r="5.7" fill="#0a16ea"/>
<circle cx="418.5" cy="67.7" r="5.7" fill="#0a16ea"/>
<circle cx="425.5" cy="56.1" r="5.7" fill="#0a16ea"/>
<circle cx="422.3" cy="70.9" r="5.7" fill="#0a16ea"/>
<circle cx="425.7" cy="67.7" r="5.7" fill="#0a16ea"/>
<circle cx="430.8" cy="69.3" r="5.7" fill="#0a16ea"/>
<circle cx="436.4" cy="69.3" r="5.7" fill="#0a16ea"/>
<circle cx="444.4" cy="67.7" r="5.7" fill="#0a16ea"/>
<circle cx="458.4" cy="61.7" r="5.7" fill="#0a16ea"/>
<circle cx="467.2" cy="55.0" r="5.7" fill="#0a16ea"/>
<circle cx="484.7" cy="59.3" r="5.7" fill="#0a16ea"/>
<circle cx="306.4" cy="126.2" r="5.7" fill="#0a16ea"/>
<circle cx="310.9" cy="123.5" r="5.7" fill="#0a16ea"/>
<circle cx="328.3" cy="114.2" r="5.7" fill="#0a16ea"/>
<circle cx="346.1" cy="122.1" r="5.7" fill="#0a16ea"/>
<circle cx="363.2" cy="113.2" r="5.7" fill="#0a16ea"/>
<circle cx="370.7" cy="126.2" r="5.7" fill="#0a16ea"/>
<circle cx="374.8" cy="121.4" r="5.7" fill="#0a16ea"/>
<circle cx="378.9" cy="122.1" r="5.7" fill="#0a16ea"/>
<circle cx="381.7" cy="132.4" r="5.7" fill="#0a16ea"/>
<circle cx="378.9" cy="128.9" r="5.7" fill="#0a16ea"/>
<circle cx="383.0" cy="128.3" r="5.7" fill="#0a16ea"/>
<circle cx="391.3" cy="122.1" r="5.7" fill="#0a16ea"/>
<circle cx="383.7" cy="123.5" r="5.7" fill="#0a16ea"/>
<circle cx="376.2" cy="124.2" r="5.7" fill="#0a16ea"/>
<circle cx="426.8" cy="126.2" r="5.7" fill="#0a16ea"/>
<circle cx="430.9" cy="122.8" r="5.7" fill="#0a16ea"/>
<circle cx="498.8" cy="188.2" r="5.7" fill="#0a16ea"/>
<circle cx="539.0" cy="178.8" r="5.7" fill="#0a16ea"/>
<circle cx="551.8" cy="177.5" r="5.7" fill="#0a16ea"/>
<circle cx="560.4" cy="174.9" r="5.7" fill="#0a16ea"/>
<circle cx="560.4" cy="188.2" r="5.7" fill="#0a16ea"/>
<circle cx="440.2" cy="218.4" r="5.7" fill="#0a16ea"/>
<circle cx="440.2" cy="225.2" r="5.7" fill="#0a16ea"/>
<circle cx="440.2" cy="232.1" r="5.7" fill="#0a16ea"/>
<circle cx="440.2" cy="238.9" r="5.7" fill="#0a16ea"/>
<circle cx="440.2" cy="245.7" r="5.7" fill="#0a16ea"/>
<circle cx="449.1" cy="227.3" r="5.7" fill="#0a16ea"/>
<circle cx="449.1" cy="234.1" r="5.7" fill="#0a16ea"/>
<circle cx="449.1" cy="241.3" r="5.7" fill="#0a16ea"/>
<circle cx="520.3" cy="229.7" r="5.7" fill="#0a16ea"/>
<circle cx="341.8" cy="283.3" r="5.7" fill="#0a16ea"/>
<circle cx="341.8" cy="288.9" r="5.7" fill="#0a16ea"/>
<circle cx="341.8" cy="294.6" r="5.7" fill="#0a16ea"/>
<circle cx="399.6" cy="291.6" r="5.7" fill="#0a16ea"/>
<circle cx="403.8" cy="286.8" r="5.7" fill="#0a16ea"/>
<circle cx="403.8" cy="294.3" r="5.7" fill="#0a16ea"/>
<circle cx="417.6" cy="280.0" r="5.7" fill="#0a16ea"/>
<circle cx="413.4" cy="293.1" r="5.7" fill="#0a16ea"/>
<circle cx="417.6" cy="289.5" r="5.7" fill="#0a16ea"/>
<circle cx="417.6" cy="297.3" r="5.7" fill="#0a16ea"/>
<circle cx="421.8" cy="277.3" r="5.7" fill="#0a16ea"/>
<circle cx="421.8" cy="285.3" r="5.7" fill="#0a16ea"/>
<circle cx="421.8" cy="293.7" r="5.7" fill="#0a16ea"/>
<circle cx="421.8" cy="300.9" r="5.7" fill="#0a16ea"/>
<circle cx="431.4" cy="295.8" r="5.7" fill="#0a16ea"/>
<circle cx="449.3" cy="286.5" r="5.7" fill="#0a16ea"/>
<circle cx="453.5" cy="281.2" r="5.7" fill="#0a16ea"/>
<circle cx="453.5" cy="290.1" r="5.7" fill="#0a16ea"/>
<circle cx="457.7" cy="293.7" r="5.7" fill="#0a16ea"/>
<circle cx="511.6" cy="299.7" r="5.7" fill="#0a16ea"/>
<circle cx="306.1" cy="343.7" r="5.7" fill="#0a16ea"/>
<circle cx="333.5" cy="335.1" r="5.7" fill="#0a16ea"/>
<circle cx="335.7" cy="333.1" r="5.7" fill="#0a16ea"/>
<circle cx="333.5" cy="341.9" r="5.7" fill="#0a16ea"/>
<circle cx="337.8" cy="337.8" r="5.7" fill="#0a16ea"/>
<circle cx="335.7" cy="336.5" r="5.7" fill="#0a16ea"/>
<circle cx="333.5" cy="348.8" r="5.7" fill="#0a16ea"/>
<circle cx="337.8" cy="345.4" r="5.7" fill="#0a16ea"/>
<circle cx="333.5" cy="355.6" r="5.7" fill="#0a16ea"/>
<circle cx="337.8" cy="352.9" r="5.7" fill="#0a16ea"/>
<circle cx="333.5" cy="362.5" r="5.7" fill="#0a16ea"/>
<circle cx="337.8" cy="359.1" r="5.7" fill="#0a16ea"/>
<circle cx="335.7" cy="360.4" r="5.7" fill="#0a16ea"/>
<circle cx="337.8" cy="366.6" r="5.7" fill="#0a16ea"/>
<circle cx="335.7" cy="363.8" r="5.7" fill="#0a16ea"/>
<circle cx="346.4" cy="336.5" r="5.7" fill="#0a16ea"/>
<circle cx="342.0" cy="341.3" r="5.7" fill="#0a16ea"/>
<circle cx="339.9" cy="335.8" r="5.7" fill="#0a16ea"/>
<circle cx="342.0" cy="363.2" r="5.7" fill="#0a16ea"/>
<circle cx="343.4" cy="365.2" r="5.7" fill="#0a16ea"/>
<circle cx="339.9" cy="364.5" r="5.7" fill="#0a16ea"/>
<circle cx="346.4" cy="345.4" r="5.7" fill="#0a16ea"/>
<circle cx="350.9" cy="348.8" r="5.7" fill="#0a16ea"/>
<circle cx="346.4" cy="358.4" r="5.7" fill="#0a16ea"/>
<circle cx="350.9" cy="354.9" r="5.7" fill="#0a16ea"/>
<circle cx="347.8" cy="360.4" r="5.7" fill="#0a16ea"/>
<circle cx="261.1" cy="391.4" r="5.7" fill="#0a16ea"/>
<circle cx="261.1" cy="398.3" r="5.7" fill="#0a16ea"/>
<circle cx="261.1" cy="405.1" r="5.7" fill="#0a16ea"/>
<circle cx="261.1" cy="411.9" r="5.7" fill="#0a16ea"/>
<circle cx="261.1" cy="418.4" r="5.7" fill="#0a16ea"/>
<circle cx="288.5" cy="390.1" r="5.7" fill="#0a16ea"/>
<circle cx="292.8" cy="395.5" r="5.7" fill="#0a16ea"/>
<circle cx="288.7" cy="396.9" r="5.7" fill="#0a16ea"/>
<circle cx="288.7" cy="402.4" r="5.7" fill="#0a16ea"/>
<circle cx="292.8" cy="404.4" r="5.7" fill="#0a16ea"/>
<circle cx="292.8" cy="417.4" r="5.7" fill="#0a16ea"/>
<circle cx="279.2" cy="403.7" r="5.7" fill="#0a16ea"/>
<circle cx="279.2" cy="411.9" r="5.7" fill="#0a16ea"/>
<circle cx="292.9" cy="398.3" r="5.7" fill="#0a16ea"/>
<circle cx="297.0" cy="400.3" r="5.7" fill="#0a16ea"/>
<circle cx="297.0" cy="407.2" r="5.7" fill="#0a16ea"/>
<circle cx="297.0" cy="414.0" r="5.7" fill="#0a16ea"/>
<circle cx="310.7" cy="396.2" r="5.7" fill="#0a16ea"/>
<circle cx="307.9" cy="399.6" r="5.7" fill="#0a16ea"/>
<circle cx="310.7" cy="417.4" r="5.7" fill="#0a16ea"/>
<circle cx="306.6" cy="416.1" r="5.7" fill="#0a16ea"/>
<circle cx="314.8" cy="399.6" r="5.7" fill="#0a16ea"/>
<circle cx="312.0" cy="398.9" r="5.7" fill="#0a16ea"/>
<circle cx="314.8" cy="406.5" r="5.7" fill="#0a16ea"/>
<circle cx="312.0" cy="403.1" r="5.7" fill="#0a16ea"/>
<circle cx="310.7" cy="414.7" r="5.7" fill="#0a16ea"/>
<circle cx="314.8" cy="412.6" r="5.7" fill="#0a16ea"/>
<circle cx="332.6" cy="407.8" r="5.7" fill="#0a16ea"/>
<circle cx="342.2" cy="397.6" r="5.7" fill="#0a16ea"/>
<circle cx="306.6" cy="448.4" r="5.7" fill="#0a16ea"/>
<circle cx="306.6" cy="454.6" r="5.7" fill="#0a16ea"/>
<circle cx="306.6" cy="460.8" r="5.7" fill="#0a16ea"/>
<circle cx="306.6" cy="466.4" r="5.7" fill="#0a16ea"/>
<circle cx="342.0" cy="449.5" r="5.7" fill="#0a16ea"/>
<circle cx="342.0" cy="455.6" r="5.7" fill="#0a16ea"/>
<circle cx="342.0" cy="461.8" r="5.7" fill="#0a16ea"/>
<circle cx="342.0" cy="468.5" r="5.7" fill="#0a16ea"/>
<circle cx="346.3" cy="464.9" r="5.7" fill="#0a16ea"/>
<circle cx="342.0" cy="475.1" r="5.7" fill="#0a16ea"/>
<circle cx="346.3" cy="473.1" r="5.7" fill="#0a16ea"/>
<circle cx="359.9" cy="450.0" r="5.7" fill="#0a16ea"/>
<circle cx="359.9" cy="457.7" r="5.7" fill="#0a16ea"/>
<circle cx="359.9" cy="465.9" r="5.7" fill="#0a16ea"/>
<circle cx="359.9" cy="472.6" r="5.7" fill="#0a16ea"/>
<circle cx="448.3" cy="579.9" r="5.7" fill="#0a16ea"/>
<circle cx="501.4" cy="571.0" r="5.7" fill="#0a16ea"/>
<circle cx="505.8" cy="566.2" r="5.7" fill="#0a16ea"/>
<circle cx="501.4" cy="579.2" r="5.7" fill="#0a16ea"/>
<circle cx="505.8" cy="575.1" r="5.7" fill="#0a16ea"/>
<circle cx="501.4" cy="587.4" r="5.7" fill="#0a16ea"/>
<circle cx="505.8" cy="584.0" r="5.7" fill="#0a16ea"/>
<circle cx="501.4" cy="593.6" r="5.7" fill="#0a16ea"/>
<circle cx="505.8" cy="592.2" r="5.7" fill="#0a16ea"/>
<circle cx="510.3" cy="561.4" r="5.7" fill="#0a16ea"/>
<circle cx="510.3" cy="588.8" r="5.7" fill="#0a16ea"/>
<circle cx="519.8" cy="571.0" r="5.7" fill="#0a16ea"/>
<circle cx="519.8" cy="579.2" r="5.7" fill="#0a16ea"/>
<circle cx="573.9" cy="581.6" r="5.7" fill="#0a16ea"/>
<circle cx="605.8" cy="565.2" r="5.7" fill="#0a16ea"/>
<circle cx="609.6" cy="570.7" r="5.7" fill="#0a16ea"/>
<circle cx="619.2" cy="580.6" r="5.7" fill="#0a16ea"/>
<circle cx="658.8" cy="583.3" r="5.7" fill="#0a16ea"/>
<circle cx="667.4" cy="574.4" r="5.7" fill="#0a16ea"/>
<circle cx="697.8" cy="576.5" r="5.7" fill="#0a16ea"/>
<circle cx="315.9" cy="628.5" r="5.7" fill="#0a16ea"/>
<circle cx="320.0" cy="623.0" r="5.7" fill="#0a16ea"/>
<circle cx="315.9" cy="637.1" r="5.7" fill="#0a16ea"/>
<circle cx="320.0" cy="631.1" r="5.7" fill="#0a16ea"/>
<circle cx="315.9" cy="644.3" r="5.7" fill="#0a16ea"/>
<circle cx="320.0" cy="639.6" r="5.7" fill="#0a16ea"/>
<circle cx="320.0" cy="647.3" r="5.7" fill="#0a16ea"/>
<circle cx="324.1" cy="625.5" r="5.7" fill="#0a16ea"/>
<circle cx="324.1" cy="633.6" r="5.7" fill="#0a16ea"/>
<circle cx="434.8" cy="633.6" r="5.7" fill="#0a16ea"/>
<circle cx="372.9" cy="681.7" r="5.7" fill="#0a16ea"/>
<circle cx="377.2" cy="685.4" r="5.7" fill="#0a16ea"/>
<circle cx="390.3" cy="673.1" r="5.7" fill="#0a16ea"/>
<circle cx="390.3" cy="681.4" r="5.7" fill="#0a16ea"/>
<circle cx="386.3" cy="695.1" r="5.7" fill="#0a16ea"/>
<circle cx="390.3" cy="691.6" r="5.7" fill="#0a16ea"/>
<circle cx="394.3" cy="678.5" r="5.7" fill="#0a16ea"/>
<circle cx="394.3" cy="684.2" r="5.7" fill="#0a16ea"/>
<circle cx="394.3" cy="688.8" r="5.7" fill="#0a16ea"/>
<circle cx="390.3" cy="697.9" r="5.7" fill="#0a16ea"/>
<circle cx="394.3" cy="694.5" r="5.7" fill="#0a16ea"/>
<circle cx="403.4" cy="684.2" r="5.7" fill="#0a16ea"/>
<circle cx="403.4" cy="688.8" r="5.7" fill="#0a16ea"/>
<circle cx="412.5" cy="679.1" r="5.7" fill="#0a16ea"/>
<circle cx="412.5" cy="684.8" r="5.7" fill="#0a16ea"/>
<circle cx="412.5" cy="689.4" r="5.7" fill="#0a16ea"/>
<circle cx="412.5" cy="699.6" r="5.7" fill="#0a16ea"/>
<circle cx="425.6" cy="681.4" r="5.7" fill="#0a16ea"/>
<circle cx="421.7" cy="687.1" r="5.7" fill="#0a16ea"/>
<circle cx="425.6" cy="682.5" r="5.7" fill="#0a16ea"/>
<circle cx="421.7" cy="694.5" r="5.7" fill="#0a16ea"/>
<circle cx="425.6" cy="697.9" r="5.7" fill="#0a16ea"/>
<circle cx="425.6" cy="680.8" r="5.7" fill="#0a16ea"/>
<circle cx="425.6" cy="691.6" r="5.7" fill="#0a16ea"/>
<circle cx="429.6" cy="695.1" r="5.7" fill="#0a16ea"/>
<circle cx="451.9" cy="684.2" r="5.7" fill="#0a16ea"/>
<circle cx="448.5" cy="689.4" r="5.7" fill="#0a16ea"/>
<circle cx="448.5" cy="697.3" r="5.7" fill="#0a16ea"/>
<circle cx="452.4" cy="684.2" r="5.7" fill="#0a16ea"/>
<circle cx="457.0" cy="684.2" r="5.7" fill="#0a16ea"/>
<circle cx="452.4" cy="693.3" r="5.7" fill="#0a16ea"/>
<circle cx="452.4" cy="696.2" r="5.7" fill="#0a16ea"/>
<circle cx="457.0" cy="689.4" r="5.7" fill="#0a16ea"/>
<circle cx="457.0" cy="696.2" r="5.7" fill="#0a16ea"/>
<circle cx="461.6" cy="685.9" r="5.7" fill="#0a16ea"/>
<circle cx="465.6" cy="689.9" r="5.7" fill="#0a16ea"/>
<circle cx="474.7" cy="681.4" r="5.7" fill="#0a16ea"/>
<circle cx="470.1" cy="686.5" r="5.7" fill="#0a16ea"/>
<circle cx="474.7" cy="690.5" r="5.7" fill="#0a16ea"/>
<circle cx="470.1" cy="699.6" r="5.7" fill="#0a16ea"/>
<circle cx="474.7" cy="696.8" r="5.7" fill="#0a16ea"/>
<circle cx="479.2" cy="685.9" r="5.7" fill="#0a16ea"/>
<circle cx="483.2" cy="689.9" r="5.7" fill="#0a16ea"/>
<circle cx="491.8" cy="683.1" r="5.7" fill="#0a16ea"/>
<circle cx="487.2" cy="698.5" r="5.7" fill="#0a16ea"/>
<circle cx="491.8" cy="695.6" r="5.7" fill="#0a16ea"/>
<circle cx="500.9" cy="681.9" r="5.7" fill="#0a16ea"/>
<circle cx="496.3" cy="692.2" r="5.7" fill="#0a16ea"/>
<circle cx="500.9" cy="688.2" r="5.7" fill="#0a16ea"/>
<circle cx="500.9" cy="695.1" r="5.7" fill="#0a16ea"/>
<circle cx="514.9" cy="684.8" r="5.7" fill="#0a16ea"/>
<circle cx="510.6" cy="695.1" r="5.7" fill="#0a16ea"/>
<circle cx="514.9" cy="685.4" r="5.7" fill="#0a16ea"/>
<circle cx="514.9" cy="700.2" r="5.7" fill="#0a16ea"/>
<circle cx="404.2" cy="751.9" r="5.7" fill="#0a16ea"/>
<circle cx="560.6" cy="871.2" r="5.7" fill="#0a16ea"/>
<circle cx="567.5" cy="860.4" r="5.7" fill="#0a16ea"/>
<circle cx="567.5" cy="866.6" r="5.7" fill="#0a16ea"/>
<circle cx="572.1" cy="860.9" r="5.7" fill="#0a16ea"/>
<circle cx="586.9" cy="855.8" r="5.7" fill="#0a16ea"/>
<circle cx="586.9" cy="865.5" r="5.7" fill="#0a16ea"/>
<circle cx="342.0" cy="349.5" r="5.7" fill="#0a16ea"/>
<circle cx="342.0" cy="356.3" r="5.7" fill="#0a16ea"/>
<circle cx="346.4" cy="352.9" r="5.7" fill="#0a16ea"/>
<circle cx="343.4" cy="361.1" r="5.7" fill="#0a16ea"/>
<circle cx="339.9" cy="360.4" r="5.7" fill="#0a16ea"/>
<circle cx="341.3" cy="362.5" r="5.7" fill="#0a16ea"/>
<circle cx="312.0" cy="405.8" r="5.7" fill="#0a16ea"/>
<circle cx="377.2" cy="694.5" r="5.7" fill="#0a16ea"/>
<circle cx="390.3" cy="681.9" r="5.7" fill="#0a16ea"/>
<circle cx="386.3" cy="694.5" r="5.7" fill="#0a16ea"/>
<circle cx="390.3" cy="691.1" r="5.7" fill="#0a16ea"/>
<circle cx="390.3" cy="697.9" r="5.7" fill="#0a16ea"/>
<circle cx="394.3" cy="694.5" r="5.7" fill="#0a16ea"/>
<circle cx="403.4" cy="694.5" r="5.7" fill="#0a16ea"/>
<circle cx="412.5" cy="694.5" r="5.7" fill="#0a16ea"/>
<circle cx="425.6" cy="681.9" r="5.7" fill="#0a16ea"/>
<circle cx="421.7" cy="694.5" r="5.7" fill="#0a16ea"/>
<circle cx="425.6" cy="691.1" r="5.7" fill="#0a16ea"/>
<circle cx="425.6" cy="697.9" r="5.7" fill="#0a16ea"/>
<circle cx="429.6" cy="694.5" r="5.7" fill="#0a16ea"/>
<circle cx="449.0" cy="689.4" r="5.7" fill="#0a16ea"/>
<circle cx="449.0" cy="696.2" r="5.7" fill="#0a16ea"/>
<circle cx="458.1" cy="689.4" r="5.7" fill="#0a16ea"/>
<circle cx="462.1" cy="685.4" r="5.7" fill="#0a16ea"/>
<circle cx="458.1" cy="696.2" r="5.7" fill="#0a16ea"/>
<circle cx="462.1" cy="693.3" r="5.7" fill="#0a16ea"/>
<circle cx="462.1" cy="699.0" r="5.7" fill="#0a16ea"/>
<circle cx="466.1" cy="689.4" r="5.7" fill="#0a16ea"/>
<circle cx="466.1" cy="696.2" r="5.7" fill="#0a16ea"/>
<circle cx="475.3" cy="689.4" r="5.7" fill="#0a16ea"/>
<circle cx="479.2" cy="685.4" r="5.7" fill="#0a16ea"/>
<circle cx="475.3" cy="696.2" r="5.7" fill="#0a16ea"/>
<circle cx="479.2" cy="693.3" r="5.7" fill="#0a16ea"/>
<circle cx="479.2" cy="699.0" r="5.7" fill="#0a16ea"/>
<circle cx="483.2" cy="689.4" r="5.7" fill="#0a16ea"/>
<circle cx="483.2" cy="696.2" r="5.7" fill="#0a16ea"/>
<circle cx="492.4" cy="689.4" r="5.7" fill="#0a16ea"/>
<circle cx="492.4" cy="696.2" r="5.7" fill="#0a16ea"/>
<circle cx="501.5" cy="689.4" r="5.7" fill="#0a16ea"/>
<circle cx="501.5" cy="696.2" r="5.7" fill="#0a16ea"/>
<circle cx="510.6" cy="689.4" r="5.7" fill="#0a16ea"/>
<circle cx="510.6" cy="696.2" r="5.7" fill="#0a16ea"/>
<polygon points="279.2,416.1 279.2,407.8 288.5,417.4" fill="#0a16ea"/>
<polygon points="411.3,62.1 422.1,55.0 414.5,66.9" fill="#0a16ea"/>
<polygon points="582.9,865.5 590.9,865.5 582.9,874.6" fill="#0a16ea"/>
<polygon points="573.8,873.5 582.9,865.5 582.9,874.6" fill="#0a16ea"/>
<polygon points="574.5,176.2 564.6,173.7 574.5,166.0" fill="#0a16ea"/>
<polygon points="564.6,187.3 564.6,173.7 574.5,176.2" fill="#0a16ea"/>
<polygon points="404.1,68.5 411.3,62.1 414.5,66.9" fill="#0a16ea"/>
<polygon points="582.9,865.5 590.9,856.4 590.9,865.5" fill="#0a16ea"/>
<polygon points="279.2,399.6 288.5,405.1 279.2,407.8" fill="#0a16ea"/>
<polygon points="279.2,407.8 288.5,405.1 288.5,417.4" fill="#0a16ea"/>
<polygon points="484.7,61.3 475.1,63.7 484.7,57.3" fill="#0a16ea"/>
<polygon points="475.1,63.7 484.7,61.3 484.7,72.5" fill="#0a16ea"/>
<polygon points="404.1,61.3 404.1,68.5 395.3,56.1" fill="#0a16ea"/>
<polygon points="404.1,68.5 404.1,61.3 411.3,62.1" fill="#0a16ea"/>
<polygon points="582.9,855.2 590.9,856.4 582.9,865.5" fill="#0a16ea"/>
<polygon points="315.3,123.5 306.4,128.9 306.4,123.5" fill="#0a16ea"/>
<polygon points="315.3,111.2 315.3,123.5 306.4,123.5" fill="#0a16ea"/>
<polygon points="324.2,113.9 315.3,123.5 315.3,111.2" fill="#0a16ea"/>
<polygon points="297.0,396.9 306.6,396.9 297.0,403.7" fill="#0a16ea"/>
<polygon points="288.5,405.1 288.8,399.6 297.0,403.7" fill="#0a16ea"/>
<polygon points="288.8,399.6 297.0,396.9 297.0,403.7" fill="#0a16ea"/>
<polygon points="288.8,399.6 288.5,405.1 279.2,399.6" fill="#0a16ea"/>
<polygon points="369.2,473.1 359.9,475.1 359.9,470.0" fill="#0a16ea"/>
<polygon points="359.9,453.6 359.9,446.4 369.2,455.6" fill="#0a16ea"/>
<polygon points="475.1,63.7 467.2,58.9 467.2,51.0" fill="#0a16ea"/>
<polygon points="467.2,58.9 475.1,63.7 459.2,65.3" fill="#0a16ea"/>
<polygon points="467.2,58.9 457.6,58.1 467.2,51.0" fill="#0a16ea"/>
<polygon points="457.6,58.1 467.2,58.9 459.2,65.3" fill="#0a16ea"/>
<polygon points="556.7,872.3 564.6,870.0 573.8,873.5" fill="#0a16ea"/>
<polygon points="547.5,848.4 547.5,862.1 538.4,856.4" fill="#0a16ea"/>
<polygon points="570.3,863.2 582.9,865.5 573.8,873.5" fill="#0a16ea"/>
<polygon points="564.6,870.0 570.3,863.2 573.8,873.5" fill="#0a16ea"/>
<polygon points="570.3,863.2 564.6,870.0 564.6,857.5" fill="#0a16ea"/>
<polygon points="556.7,851.8 564.6,845.0 564.6,857.5" fill="#0a16ea"/>
<polygon points="564.6,845.0 556.7,851.8 547.5,848.4" fill="#0a16ea"/>
<polygon points="556.7,851.8 547.5,862.1 547.5,848.4" fill="#0a16ea"/>
<polygon points="564.6,845.0 573.8,846.1 564.6,857.5" fill="#0a16ea"/>
<polygon points="582.9,855.2 573.8,846.1 582.9,839.3" fill="#0a16ea"/>
<polygon points="422.7,126.2 430.9,119.4 430.9,126.2" fill="#0a16ea"/>
<polygon points="510.3,584.7 501.4,591.5 501.4,583.3" fill="#0a16ea"/>
<polygon points="297.0,396.9 288.5,394.2 288.5,385.9" fill="#0a16ea"/>
<polygon points="288.8,399.6 288.5,394.2 297.0,396.9" fill="#0a16ea"/>
<polygon points="288.5,385.9 288.5,394.2 279.2,399.6" fill="#0a16ea"/>
<polygon points="288.5,394.2 288.8,399.6 279.2,399.6" fill="#0a16ea"/>
<polygon points="333.5,338.5 342.0,345.4 333.5,345.4" fill="#0a16ea"/>
<polygon points="342.2,395.5 332.6,403.7 332.6,390.1" fill="#0a16ea"/>
<polygon points="359.7,520.5 349.5,512.0 359.7,510.3" fill="#0a16ea"/>
<polygon points="359.9,475.1 350.7,474.1 359.9,470.0" fill="#0a16ea"/>
<polygon points="350.7,474.1 350.7,464.9 359.9,470.0" fill="#0a16ea"/>
<polygon points="342.0,472.1 350.7,474.1 342.0,478.2" fill="#0a16ea"/>
<polygon points="342.0,472.1 342.0,464.9 350.7,464.9" fill="#0a16ea"/>
<polygon points="350.7,474.1 342.0,472.1 350.7,464.9" fill="#0a16ea"/>
<polygon points="350.7,455.6 359.9,446.4 359.9,453.6" fill="#0a16ea"/>
<polygon points="350.7,464.9 359.9,461.8 359.9,470.0" fill="#0a16ea"/>
<polygon points="359.9,461.8 359.9,453.6 369.2,455.6" fill="#0a16ea"/>
<polygon points="350.7,455.6 359.9,461.8 350.7,464.9" fill="#0a16ea"/>
<polygon points="359.9,461.8 350.7,455.6 359.9,453.6" fill="#0a16ea"/>
<polygon points="359.9,461.8 369.2,473.1 359.9,470.0" fill="#0a16ea"/>
<polygon points="369.2,473.1 359.9,461.8 369.2,455.6" fill="#0a16ea"/>
<polygon points="404.2,755.8 413.3,745.8 413.3,761.3" fill="#0a16ea"/>
<polygon points="564.6,870.0 556.7,863.2 564.6,857.5" fill="#0a16ea"/>
<polygon points="556.7,863.2 564.6,870.0 556.7,872.3" fill="#0a16ea"/>
<polygon points="547.5,862.1 556.7,863.2 556.7,872.3" fill="#0a16ea"/>
<polygon points="556.7,863.2 556.7,851.8 564.6,857.5" fill="#0a16ea"/>
<polygon points="556.7,851.8 556.7,863.2 547.5,862.1" fill="#0a16ea"/>
<polygon points="573.8,858.6 570.3,863.2 564.6,857.5" fill="#0a16ea"/>
<polygon points="573.8,846.1 573.8,858.6 564.6,857.5" fill="#0a16ea"/>
<polygon points="573.8,858.6 573.8,846.1 582.9,855.2" fill="#0a16ea"/>
<polygon points="573.8,858.6 582.9,855.2 582.9,865.5" fill="#0a16ea"/>
<polygon points="570.3,863.2 573.8,858.6 582.9,865.5" fill="#0a16ea"/>
<polygon points="332.4,114.6 324.2,113.9 315.3,111.2" fill="#0a16ea"/>
<polygon points="448.8,68.5 457.6,58.1 459.2,65.3" fill="#0a16ea"/>
<polygon points="422.1,55.0 422.5,68.5 414.5,66.9" fill="#0a16ea"/>
<polygon points="428.8,57.3 422.5,68.5 422.1,55.0" fill="#0a16ea"/>
<polygon points="428.8,66.9 422.5,68.5 428.8,57.3" fill="#0a16ea"/>
<polygon points="422.1,73.3 428.8,66.9 432.8,71.7" fill="#0a16ea"/>
<polygon points="422.1,73.3 422.5,68.5 428.8,66.9" fill="#0a16ea"/>
<polygon points="422.5,68.5 422.1,73.3 414.5,66.9" fill="#0a16ea"/>
<polygon points="449.1,223.8 440.2,221.8 440.2,214.9" fill="#0a16ea"/>
<polygon points="449.1,223.8 440.2,228.6 440.2,221.8" fill="#0a16ea"/>
<polygon points="306.6,396.9 309.3,402.4 297.0,403.7" fill="#0a16ea"/>
<polygon points="314.8,409.2 309.3,402.4 314.8,403.7" fill="#0a16ea"/>
<polygon points="309.3,402.4 306.6,396.9 314.8,395.5" fill="#0a16ea"/>
<polygon points="314.8,403.7 309.3,402.4 314.8,395.5" fill="#0a16ea"/>
<polygon points="501.4,591.5 510.3,592.9 501.4,595.6" fill="#0a16ea"/>
<polygon points="510.3,592.9 501.4,591.5 510.3,584.7" fill="#0a16ea"/>
<polygon points="342.0,345.4 333.5,352.2 333.5,345.4" fill="#0a16ea"/>
<polygon points="342.0,337.2 342.0,345.4 333.5,338.5" fill="#0a16ea"/>
<polygon points="332.6,403.7 342.2,399.6 332.6,411.9" fill="#0a16ea"/>
<polygon points="342.2,399.6 332.6,403.7 342.2,395.5" fill="#0a16ea"/>
<polygon points="350.7,455.6 342.0,452.6 342.0,446.4" fill="#0a16ea"/>
<polygon points="404.2,755.8 404.2,748.1 413.3,745.8" fill="#0a16ea"/>
<polygon points="386.3,680.8 386.3,671.1 394.3,675.1" fill="#0a16ea"/>
<polygon points="403.4,666.0 403.4,681.9 394.3,675.1" fill="#0a16ea"/>
<polygon points="403.4,681.9 403.4,666.0 412.5,676.2" fill="#0a16ea"/>
<polygon points="403.4,681.9 412.5,681.9 403.4,686.5" fill="#0a16ea"/>
<polygon points="412.5,681.9 403.4,681.9 412.5,676.2" fill="#0a16ea"/>
<polygon points="600.6,564.2 591.0,568.3 602.1,562.8" fill="#0a16ea"/>
<polygon points="645.2,580.6 654.7,568.3 654.7,583.3" fill="#0a16ea"/>
<polygon points="654.7,568.3 645.2,580.6 645.2,569.6" fill="#0a16ea"/>
<polygon points="492.4,685.4 492.4,693.3 483.2,686.5" fill="#0a16ea"/>
<polygon points="707.4,571.0 697.8,573.7 697.8,561.4" fill="#0a16ea"/>
<polygon points="662.9,573.7 662.9,583.3 654.7,583.3" fill="#0a16ea"/>
<polygon points="654.7,568.3 662.9,573.7 654.7,583.3" fill="#0a16ea"/>
<polygon points="662.9,573.7 671.8,575.1 662.9,583.3" fill="#0a16ea"/>
<polygon points="671.8,575.1 662.9,573.7 671.8,560.1" fill="#0a16ea"/>
<polygon points="421.8,297.9 431.4,300.3 421.8,303.9" fill="#0a16ea"/>
<polygon points="421.8,281.2 413.4,278.8 421.8,273.4" fill="#0a16ea"/>
<polygon points="449.1,245.1 440.2,249.2 440.2,242.3" fill="#0a16ea"/>
<polygon points="428.8,66.9 440.0,66.9 432.8,71.7" fill="#0a16ea"/>
<polygon points="448.8,68.5 440.0,66.9 440.0,55.8" fill="#0a16ea"/>
<polygon points="440.0,66.9 448.8,68.5 432.8,71.7" fill="#0a16ea"/>
<polygon points="440.0,66.9 428.8,57.3 440.0,55.8" fill="#0a16ea"/>
<polygon points="440.0,66.9 428.8,66.9 428.8,57.3" fill="#0a16ea"/>
<polygon points="556.1,176.2 556.1,165.1 564.6,173.7" fill="#0a16ea"/>
<polygon points="556.1,165.1 556.1,176.2 547.5,178.8" fill="#0a16ea"/>
<polygon points="556.1,176.2 556.1,189.1 547.5,178.8" fill="#0a16ea"/>
<polygon points="556.1,176.2 564.6,173.7 564.6,187.3" fill="#0a16ea"/>
<polygon points="556.1,189.1 556.1,176.2 564.6,187.3" fill="#0a16ea"/>
<polygon points="493.6,160.8 494.5,172.0 484.2,175.4" fill="#0a16ea"/>
<polygon points="494.5,172.0 494.5,187.3 484.2,175.4" fill="#0a16ea"/>
<polygon points="511.6,173.7 511.6,161.7 520.1,166.8" fill="#0a16ea"/>
<polygon points="475.2,189.9 475.2,178.8 484.2,175.4" fill="#0a16ea"/>
<polygon points="440.2,228.6 449.1,230.7 440.2,235.5" fill="#0a16ea"/>
<polygon points="449.1,223.8 449.1,230.7 440.2,228.6" fill="#0a16ea"/>
<polygon points="366.6,115.3 359.8,111.2 374.8,108.4" fill="#0a16ea"/>
<polygon points="366.6,115.3 350.2,120.7 359.8,111.2" fill="#0a16ea"/>
<polygon points="387.2,122.1 385.8,112.5 395.4,122.1" fill="#0a16ea"/>
<polygon points="385.8,131.7 387.2,122.1 395.4,122.1" fill="#0a16ea"/>
<polygon points="306.6,413.3 314.8,409.2 314.8,416.1" fill="#0a16ea"/>
<polygon points="306.6,413.3 309.3,402.4 314.8,409.2" fill="#0a16ea"/>
<polygon points="309.3,402.4 306.6,413.3 297.0,403.7" fill="#0a16ea"/>
<polygon points="324.1,629.4 315.9,624.2 324.1,621.7" fill="#0a16ea"/>
<polygon points="324.1,629.4 333.0,642.2 324.1,637.9" fill="#0a16ea"/>
<polygon points="448.5,640.5 439.1,634.5 448.5,628.5" fill="#0a16ea"/>
<polygon points="342.0,337.2 350.9,345.4 342.0,345.4" fill="#0a16ea"/>
<polygon points="337.9,334.4 333.5,338.5 333.5,331.7" fill="#0a16ea"/>
<polygon points="337.9,334.4 342.0,337.2 333.5,338.5" fill="#0a16ea"/>
<polygon points="342.0,458.7 342.0,452.6 350.7,455.6" fill="#0a16ea"/>
<polygon points="342.0,464.9 342.0,458.7 350.7,464.9" fill="#0a16ea"/>
<polygon points="342.0,458.7 350.7,455.6 350.7,464.9" fill="#0a16ea"/>
<polygon points="492.4,693.3 483.2,693.3 483.2,686.5" fill="#0a16ea"/>
<polygon points="483.2,699.0 483.2,693.3 491.2,697.9" fill="#0a16ea"/>
<polygon points="483.2,693.3 492.4,693.3 491.2,697.9" fill="#0a16ea"/>
<polygon points="455.9,683.1 449.0,685.4 447.9,685.4" fill="#0a16ea"/>
<polygon points="403.4,681.9 394.3,681.9 394.3,675.1" fill="#0a16ea"/>
<polygon points="394.3,681.9 386.3,680.8 394.3,675.1" fill="#0a16ea"/>
<polygon points="386.3,680.8 394.3,681.9 386.3,681.9" fill="#0a16ea"/>
<polygon points="394.3,681.9 394.3,686.5 386.3,681.9" fill="#0a16ea"/>
<polygon points="519.8,583.3 510.3,592.9 510.3,584.7" fill="#0a16ea"/>
<polygon points="645.2,580.6 636.9,573.7 645.2,569.6" fill="#0a16ea"/>
<polygon points="510.6,693.3 519.2,685.4 519.2,701.3" fill="#0a16ea"/>
<polygon points="609.6,567.6 600.6,564.2 602.1,562.8" fill="#0a16ea"/>
<polygon points="609.6,567.6 609.6,573.7 600.6,564.2" fill="#0a16ea"/>
<polygon points="609.6,573.7 619.2,576.5 619.2,584.7" fill="#0a16ea"/>
<polygon points="609.6,567.6 619.2,576.5 609.6,573.7" fill="#0a16ea"/>
<polygon points="688.9,571.0 697.8,573.7 697.8,579.2" fill="#0a16ea"/>
<polygon points="688.9,571.0 697.8,579.2 680.7,579.2" fill="#0a16ea"/>
<polygon points="697.8,573.7 688.9,571.0 697.8,561.4" fill="#0a16ea"/>
<polygon points="511.6,297.9 502.6,296.7 511.6,281.8" fill="#0a16ea"/>
<polygon points="502.6,296.7 511.6,297.9 511.6,301.5" fill="#0a16ea"/>
<polygon points="421.8,297.9 413.4,296.7 421.8,289.5" fill="#0a16ea"/>
<polygon points="413.4,296.7 421.8,297.9 421.8,303.9" fill="#0a16ea"/>
<polygon points="421.8,281.2 431.4,291.3 421.8,289.5" fill="#0a16ea"/>
<polygon points="421.8,297.9 431.4,291.3 431.4,300.3" fill="#0a16ea"/>
<polygon points="431.4,291.3 421.8,297.9 421.8,289.5" fill="#0a16ea"/>
<polygon points="332.4,114.6 342.0,123.5 333.1,130.3" fill="#0a16ea"/>
<polygon points="503.0,189.1 511.6,184.8 511.2,196.8" fill="#0a16ea"/>
<polygon points="520.1,178.8 511.6,173.7 520.1,166.8" fill="#0a16ea"/>
<polygon points="511.6,173.7 520.1,178.8 511.6,184.8" fill="#0a16ea"/>
<polygon points="511.6,173.7 503.0,165.1 511.6,161.7" fill="#0a16ea"/>
<polygon points="503.0,165.1 494.5,172.0 493.6,160.8" fill="#0a16ea"/>
<polygon points="449.1,230.7 449.1,237.5 440.2,235.5" fill="#0a16ea"/>
<polygon points="449.1,237.5 440.2,242.3 440.2,235.5" fill="#0a16ea"/>
<polygon points="449.1,237.5 449.1,245.1 440.2,242.3" fill="#0a16ea"/>
<polygon points="377.6,119.4 366.6,115.3 374.8,108.4" fill="#0a16ea"/>
<polygon points="385.8,112.5 377.6,119.4 374.8,108.4" fill="#0a16ea"/>
<polygon points="387.2,122.1 377.6,119.4 385.8,112.5" fill="#0a16ea"/>
<polygon points="306.6,418.8 306.6,413.3 314.8,416.1" fill="#0a16ea"/>
<polygon points="306.6,413.3 306.6,418.8 297.0,417.4" fill="#0a16ea"/>
<polygon points="306.6,413.3 297.0,410.6 297.0,403.7" fill="#0a16ea"/>
<polygon points="297.0,410.6 306.6,413.3 297.0,417.4" fill="#0a16ea"/>
<polygon points="297.0,410.6 288.5,405.1 297.0,403.7" fill="#0a16ea"/>
<polygon points="288.5,405.1 297.0,410.6 288.5,417.4" fill="#0a16ea"/>
<polygon points="297.0,410.6 297.0,417.4 288.5,417.4" fill="#0a16ea"/>
<polygon points="324.1,629.4 315.9,632.8 315.9,624.2" fill="#0a16ea"/>
<polygon points="315.9,632.8 324.1,629.4 324.1,637.9" fill="#0a16ea"/>
<polygon points="421.7,681.9 429.6,681.9 421.7,683.1" fill="#0a16ea"/>
<polygon points="412.5,681.9 421.7,681.9 421.7,683.1" fill="#0a16ea"/>
<polygon points="421.7,681.9 412.5,681.9 412.5,676.2" fill="#0a16ea"/>
<polygon points="429.6,679.7 421.7,681.9 412.5,676.2" fill="#0a16ea"/>
<polygon points="421.7,681.9 429.6,679.7 429.6,681.9" fill="#0a16ea"/>
<polygon points="429.6,681.9 429.6,691.1 421.7,683.1" fill="#0a16ea"/>
<polygon points="510.3,565.5 501.4,566.9 510.3,557.3" fill="#0a16ea"/>
<polygon points="519.8,566.9 510.3,565.5 510.3,557.3" fill="#0a16ea"/>
<polygon points="350.9,345.4 350.9,335.8 359.8,347.4" fill="#0a16ea"/>
<polygon points="350.9,335.8 350.9,345.4 342.0,337.2" fill="#0a16ea"/>
<polygon points="337.9,334.4 350.9,335.8 342.0,337.2" fill="#0a16ea"/>
<polygon points="333.5,352.2 342.0,353.6 333.5,359.1" fill="#0a16ea"/>
<polygon points="342.0,353.6 342.0,359.1 333.5,359.1" fill="#0a16ea"/>
<polygon points="342.0,353.6 333.5,352.2 342.0,345.4" fill="#0a16ea"/>
<polygon points="333.5,359.1 337.9,361.8 333.5,365.9" fill="#0a16ea"/>
<polygon points="342.0,359.1 337.9,361.8 333.5,359.1" fill="#0a16ea"/>
<polygon points="337.9,361.8 342.0,367.3 333.5,365.9" fill="#0a16ea"/>
<polygon points="337.9,361.8 344.7,363.2 342.0,367.3" fill="#0a16ea"/>
<polygon points="344.7,363.2 337.9,361.8 342.0,359.1" fill="#0a16ea"/>
<polygon points="483.2,685.4 492.4,685.4 483.2,686.5" fill="#0a16ea"/>
<polygon points="483.2,685.4 491.2,680.8 492.4,685.4" fill="#0a16ea"/>
<polygon points="475.3,685.4 483.2,685.4 483.2,686.5" fill="#0a16ea"/>
<polygon points="483.2,685.4 483.2,674.0 491.2,680.8" fill="#0a16ea"/>
<polygon points="466.1,685.4 458.1,685.4 455.9,683.1" fill="#0a16ea"/>
<polygon points="458.1,685.4 449.0,685.4 455.9,683.1" fill="#0a16ea"/>
<polygon points="449.0,685.4 458.1,685.4 455.9,693.3" fill="#0a16ea"/>
<polygon points="412.5,681.9 412.5,687.6 403.4,686.5" fill="#0a16ea"/>
<polygon points="412.5,687.6 412.5,681.9 421.7,683.1" fill="#0a16ea"/>
<polygon points="412.5,687.6 403.4,691.1 403.4,686.5" fill="#0a16ea"/>
<polygon points="403.4,691.1 412.5,687.6 412.5,691.1" fill="#0a16ea"/>
<polygon points="403.4,697.9 412.5,697.9 412.5,701.3" fill="#0a16ea"/>
<polygon points="412.5,697.9 421.7,697.9 412.5,701.3" fill="#0a16ea"/>
<polygon points="449.0,699.0 455.9,693.3 458.1,699.0" fill="#0a16ea"/>
<polygon points="447.9,701.3 449.0,699.0 458.1,699.0" fill="#0a16ea"/>
<polygon points="421.7,691.1 412.5,687.6 421.7,683.1" fill="#0a16ea"/>
<polygon points="412.5,687.6 421.7,691.1 412.5,691.1" fill="#0a16ea"/>
<polygon points="429.6,691.1 421.7,691.1 421.7,683.1" fill="#0a16ea"/>
<polygon points="628.7,580.6 636.9,573.7 645.2,580.6" fill="#0a16ea"/>
<polygon points="619.2,576.5 628.7,580.6 619.2,584.7" fill="#0a16ea"/>
<polygon points="636.9,573.7 628.7,580.6 627.4,569.6" fill="#0a16ea"/>
<polygon points="628.7,580.6 619.2,576.5 627.4,569.6" fill="#0a16ea"/>
<polygon points="491.2,680.8 500.3,678.5 492.4,685.4" fill="#0a16ea"/>
<polygon points="500.3,678.5 501.5,685.4 492.4,685.4" fill="#0a16ea"/>
<polygon points="519.2,685.4 510.6,684.2 510.6,671.7" fill="#0a16ea"/>
<polygon points="510.6,684.2 500.3,678.5 510.6,671.7" fill="#0a16ea"/>
<polygon points="500.3,678.5 510.6,684.2 501.5,685.4" fill="#0a16ea"/>
<polygon points="510.6,696.8 510.6,693.3 519.2,701.3" fill="#0a16ea"/>
<polygon points="510.6,699.0 510.6,696.8 519.2,701.3" fill="#0a16ea"/>
<polygon points="510.6,696.8 501.5,693.3 510.6,693.3" fill="#0a16ea"/>
<polygon points="413.4,296.7 413.4,289.5 421.8,289.5" fill="#0a16ea"/>
<polygon points="413.4,289.5 421.8,281.2 421.8,289.5" fill="#0a16ea"/>
<polygon points="413.4,289.5 413.4,278.8 421.8,281.2" fill="#0a16ea"/>
<polygon points="413.4,278.8 413.4,289.5 403.8,283.0" fill="#0a16ea"/>
<polygon points="449.3,301.5 449.3,290.7 457.7,297.9" fill="#0a16ea"/>
<polygon points="503.0,165.1 503.0,177.9 494.5,172.0" fill="#0a16ea"/>
<polygon points="503.0,177.9 503.0,165.1 511.6,173.7" fill="#0a16ea"/>
<polygon points="503.0,177.9 494.5,187.3 494.5,172.0" fill="#0a16ea"/>
<polygon points="503.0,177.9 503.0,189.1 494.5,187.3" fill="#0a16ea"/>
<polygon points="503.0,177.9 511.6,173.7 511.6,184.8" fill="#0a16ea"/>
<polygon points="503.0,189.1 503.0,177.9 511.6,184.8" fill="#0a16ea"/>
<polygon points="520.1,178.8 520.1,189.1 511.6,184.8" fill="#0a16ea"/>
<polygon points="511.6,184.8 520.1,189.1 511.2,196.8" fill="#0a16ea"/>
<polygon points="529.6,177.9 529.6,166.8 539.0,175.4" fill="#0a16ea"/>
<polygon points="520.1,189.1 529.6,177.9 529.6,192.5" fill="#0a16ea"/>
<polygon points="529.6,177.9 520.1,189.1 520.1,178.8" fill="#0a16ea"/>
<polygon points="529.6,166.8 529.6,177.9 520.1,166.8" fill="#0a16ea"/>
<polygon points="529.6,177.9 520.1,178.8 520.1,166.8" fill="#0a16ea"/>
<polygon points="372.1,123.5 369.4,128.9 366.6,115.3" fill="#0a16ea"/>
<polygon points="377.6,119.4 372.1,123.5 366.6,115.3" fill="#0a16ea"/>
<polygon points="369.4,128.9 372.1,123.5 377.6,133.1" fill="#0a16ea"/>
<polygon points="380.3,124.8 387.2,122.1 385.8,131.7" fill="#0a16ea"/>
<polygon points="380.3,124.8 377.6,119.4 387.2,122.1" fill="#0a16ea"/>
<polygon points="377.6,133.1 380.3,124.8 385.8,131.7" fill="#0a16ea"/>
<polygon points="372.1,123.5 380.3,124.8 377.6,133.1" fill="#0a16ea"/>
<polygon points="380.3,124.8 372.1,123.5 377.6,119.4" fill="#0a16ea"/>
<polygon points="333.0,642.2 324.1,647.3 324.1,637.9" fill="#0a16ea"/>
<polygon points="510.3,575.1 501.4,575.1 501.4,566.9" fill="#0a16ea"/>
<polygon points="510.3,565.5 510.3,575.1 501.4,566.9" fill="#0a16ea"/>
<polygon points="510.3,575.1 510.3,584.7 501.4,583.3" fill="#0a16ea"/>
<polygon points="501.4,575.1 510.3,575.1 501.4,583.3" fill="#0a16ea"/>
<polygon points="510.3,575.1 519.8,583.3 510.3,584.7" fill="#0a16ea"/>
<polygon points="510.3,575.1 510.3,565.5 519.8,566.9" fill="#0a16ea"/>
<polygon points="342.0,353.6 350.9,357.7 342.0,359.1" fill="#0a16ea"/>
<polygon points="350.9,357.7 344.7,363.2 342.0,359.1" fill="#0a16ea"/>
<polygon points="466.1,685.4 474.1,677.4 475.3,685.4" fill="#0a16ea"/>
<polygon points="474.1,677.4 483.2,685.4 475.3,685.4" fill="#0a16ea"/>
<polygon points="474.1,677.4 483.2,674.0 483.2,685.4" fill="#0a16ea"/>
<polygon points="474.1,687.6 466.1,685.4 475.3,685.4" fill="#0a16ea"/>
<polygon points="474.1,687.6 466.1,693.3 466.1,685.4" fill="#0a16ea"/>
<polygon points="474.1,687.6 475.3,685.4 483.2,686.5" fill="#0a16ea"/>
<polygon points="458.1,685.4 458.1,693.3 455.9,693.3" fill="#0a16ea"/>
<polygon points="455.9,693.3 458.1,693.3 458.1,699.0" fill="#0a16ea"/>
<polygon points="449.0,693.3 449.0,685.4 455.9,693.3" fill="#0a16ea"/>
<polygon points="449.0,699.0 449.0,693.3 455.9,693.3" fill="#0a16ea"/>
<polygon points="449.0,685.4 449.0,693.3 447.9,685.4" fill="#0a16ea"/>
<polygon points="449.0,693.3 449.0,699.0 447.9,701.3" fill="#0a16ea"/>
<polygon points="421.7,691.1 429.6,692.2 421.7,697.9" fill="#0a16ea"/>
<polygon points="421.7,697.9 429.6,692.2 429.6,697.9" fill="#0a16ea"/>
<polygon points="429.6,692.2 421.7,691.1 429.6,691.1" fill="#0a16ea"/>
<polygon points="501.5,693.3 500.3,691.1 510.6,693.3" fill="#0a16ea"/>
<polygon points="501.5,685.4 500.3,691.1 492.4,685.4" fill="#0a16ea"/>
<polygon points="500.3,691.1 492.4,693.3 492.4,685.4" fill="#0a16ea"/>
<polygon points="500.3,691.1 501.5,693.3 492.4,693.3" fill="#0a16ea"/>
<polygon points="501.5,699.0 510.6,696.8 510.6,699.0" fill="#0a16ea"/>
<polygon points="510.6,696.8 501.5,699.0 501.5,693.3" fill="#0a16ea"/>
<polygon points="510.6,685.4 519.2,685.4 510.6,693.3" fill="#0a16ea"/>
<polygon points="510.6,685.4 510.6,684.2 519.2,685.4" fill="#0a16ea"/>
<polygon points="510.6,684.2 510.6,685.4 501.5,685.4" fill="#0a16ea"/>
<polygon points="500.3,691.1 510.6,685.4 510.6,693.3" fill="#0a16ea"/>
<polygon points="510.6,685.4 500.3,691.1 501.5,685.4" fill="#0a16ea"/>
<polygon points="466.1,285.9 457.7,289.5 457.7,280.0" fill="#0a16ea"/>
<polygon points="457.7,289.5 449.3,282.4 457.7,280.0" fill="#0a16ea"/>
<polygon points="457.7,289.5 449.3,290.7 449.3,282.4" fill="#0a16ea"/>
<polygon points="449.3,290.7 457.7,289.5 457.7,297.9" fill="#0a16ea"/>
<polygon points="386.5,291.3 395.4,292.5 386.5,303.3" fill="#0a16ea"/>
<polygon points="403.8,290.7 413.4,289.5 413.4,296.7" fill="#0a16ea"/>
<polygon points="403.8,297.9 403.8,290.7 413.4,296.7" fill="#0a16ea"/>
<polygon points="413.4,289.5 403.8,290.7 403.8,283.0" fill="#0a16ea"/>
<polygon points="403.8,290.7 395.4,292.5 403.8,283.0" fill="#0a16ea"/>
<polygon points="395.4,292.5 403.8,290.7 403.8,297.9" fill="#0a16ea"/>
<polygon points="539.0,182.2 529.6,177.9 539.0,175.4" fill="#0a16ea"/>
<polygon points="529.6,177.9 539.0,182.2 529.6,192.5" fill="#0a16ea"/>
<polygon points="547.5,178.8 539.0,182.2 539.0,175.4" fill="#0a16ea"/>
<polygon points="377.2,681.9 386.3,680.8 386.3,681.9" fill="#0a16ea"/>
<polygon points="386.3,680.8 377.2,681.9 386.3,671.1" fill="#0a16ea"/>
<polygon points="324.1,647.3 315.9,641.3 324.1,637.9" fill="#0a16ea"/>
<polygon points="315.9,647.3 315.9,641.3 324.1,647.3" fill="#0a16ea"/>
<polygon points="315.9,641.3 315.9,632.8 324.1,637.9" fill="#0a16ea"/>
<polygon points="519.8,575.1 510.3,575.1 519.8,566.9" fill="#0a16ea"/>
<polygon points="510.3,575.1 519.8,575.1 519.8,583.3" fill="#0a16ea"/>
<polygon points="519.8,575.1 519.8,566.9 528.7,572.4" fill="#0a16ea"/>
<polygon points="519.8,583.3 519.8,575.1 528.7,572.4" fill="#0a16ea"/>
<polygon points="350.9,352.2 350.9,357.7 342.0,353.6" fill="#0a16ea"/>
<polygon points="350.9,345.4 350.9,352.2 342.0,345.4" fill="#0a16ea"/>
<polygon points="350.9,352.2 342.0,353.6 342.0,345.4" fill="#0a16ea"/>
<polygon points="350.9,352.2 350.9,345.4 359.8,347.4" fill="#0a16ea"/>
<polygon points="350.9,357.7 350.9,352.2 359.8,347.4" fill="#0a16ea"/>
<polygon points="483.2,693.3 475.3,693.3 483.2,686.5" fill="#0a16ea"/>
<polygon points="475.3,693.3 474.1,687.6 483.2,686.5" fill="#0a16ea"/>
<polygon points="474.1,687.6 475.3,693.3 466.1,693.3" fill="#0a16ea"/>
<polygon points="466.1,693.3 465.0,686.5 466.1,685.4" fill="#0a16ea"/>
<polygon points="465.0,686.5 458.1,685.4 466.1,685.4" fill="#0a16ea"/>
<polygon points="458.1,693.3 465.0,686.5 466.1,693.3" fill="#0a16ea"/>
<polygon points="465.0,686.5 458.1,693.3 458.1,685.4" fill="#0a16ea"/>
<polygon points="492.4,693.3 492.4,699.0 491.2,697.9" fill="#0a16ea"/>
<polygon points="492.4,699.0 483.2,699.0 491.2,697.9" fill="#0a16ea"/>
<polygon points="466.1,301.5 449.3,301.5 457.7,297.9" fill="#0a16ea"/>
<polygon points="377.2,688.8 377.2,681.9 386.3,681.9" fill="#0a16ea"/>
<polygon points="377.2,681.9 377.2,688.8 368.6,681.4" fill="#0a16ea"/>
<polygon points="377.2,700.2 377.2,697.9 386.3,697.9" fill="#0a16ea"/>
<polygon points="474.1,700.2 466.1,699.0 466.1,693.3" fill="#0a16ea"/>
<polygon points="475.3,693.3 474.1,700.2 466.1,693.3" fill="#0a16ea"/>
<polygon points="386.3,691.1 377.2,688.8 386.3,681.9" fill="#0a16ea"/>
<polygon points="394.3,691.1 386.3,691.1 394.3,686.5" fill="#0a16ea"/>
<polygon points="394.3,686.5 386.3,691.1 386.3,681.9" fill="#0a16ea"/>
<polygon points="377.2,688.8 377.2,691.1 368.6,681.4" fill="#0a16ea"/>
<polygon points="386.3,691.1 377.2,691.1 377.2,688.8" fill="#0a16ea"/>
<polygon points="474.1,700.2 475.3,699.0 483.2,699.0" fill="#0a16ea"/>
<polygon points="475.3,699.0 474.1,700.2 475.3,693.3" fill="#0a16ea"/>
<polygon points="377.2,697.9 386.3,692.2 386.3,697.9" fill="#0a16ea"/>
<polygon points="386.3,692.2 377.2,691.1 386.3,691.1" fill="#0a16ea"/>
<polygon points="377.2,691.1 386.3,692.2 377.2,697.9" fill="#0a16ea"/>
<polygon points="386.3,692.2 394.3,691.1 394.3,697.9" fill="#0a16ea"/>
<polygon points="386.3,697.9 386.3,692.2 394.3,697.9" fill="#0a16ea"/>
<polygon points="386.3,692.2 386.3,691.1 394.3,691.1" fill="#0a16ea"/>
<polygon points="697.8,579.2 697.8,573.7 707.4,581.9" fill="#0a16ea"/>
<polygon points="697.8,573.7 707.4,571.0 707.4,581.9" fill="#0a16ea"/>
<polygon points="394.3,686.5 394.3,681.9 403.4,686.5" fill="#0a16ea"/>
<polygon points="394.3,681.9 403.4,681.9 403.4,686.5" fill="#0a16ea"/>
<polygon points="403.4,691.1 394.3,686.5 403.4,686.5" fill="#0a16ea"/>
<polygon points="403.4,691.1 394.3,691.1 394.3,686.5" fill="#0a16ea"/>
<polygon points="403.4,691.1 403.4,697.9 394.3,697.9" fill="#0a16ea"/>
<polygon points="394.3,691.1 403.4,691.1 394.3,697.9" fill="#0a16ea"/>
<polygon points="403.4,691.1 412.5,697.9 403.4,697.9" fill="#0a16ea"/>
<polygon points="412.5,697.9 403.4,691.1 412.5,691.1" fill="#0a16ea"/>
<polygon points="421.7,691.1 412.5,697.9 412.5,691.1" fill="#0a16ea"/>
<polygon points="412.5,697.9 421.7,691.1 421.7,697.9" fill="#0a16ea"/>
<polygon points="458.1,693.3 466.1,699.0 458.1,699.0" fill="#0a16ea"/>
<polygon points="466.1,699.0 458.1,693.3 466.1,693.3" fill="#0a16ea"/>
<polygon points="501.5,699.0 492.4,699.0 501.5,693.3" fill="#0a16ea"/>
<polygon points="501.5,693.3 492.4,699.0 492.4,693.3" fill="#0a16ea"/>
<polygon points="466.1,301.5 457.7,289.5 466.1,285.9" fill="#0a16ea"/>
<polygon points="457.7,289.5 466.1,301.5 457.7,297.9" fill="#0a16ea"/>
<polygon points="475.3,699.0 475.3,693.3 483.2,693.3" fill="#0a16ea"/>
<polygon points="475.3,699.0 483.2,693.3 483.2,699.0" fill="#0a16ea"/>
<circle cx="583.9" cy="170.7" r="5.7" fill="#2a2aa8"/>
<circle cx="529.8" cy="239.3" r="5.7" fill="#2a2aa8"/>
<circle cx="404.6" cy="453.1" r="5.7" fill="#2a2aa8"/>
<circle cx="733.4" cy="578.5" r="5.7" fill="#2a2aa8"/>
<circle cx="565.3" cy="59.2" r="5.7" fill="#f5a300"/>
<circle cx="547.2" cy="232.1" r="5.7" fill="#f5a300"/>
<circle cx="663.5" cy="526.7" r="5.7" fill="#f5a300"/>
<circle cx="751.9" cy="577.2" r="5.7" fill="#f5a300"/>
<circle cx="751.9" cy="587.4" r="5.7" fill="#f5a300"/>
<circle cx="760.8" cy="568.3" r="5.7" fill="#f5a300"/>
<circle cx="778.6" cy="578.5" r="5.7" fill="#f5a300"/>
<circle cx="814.8" cy="579.9" r="5.7" fill="#f5a300"/>
<circle cx="760.0" cy="568.3" r="5.7" fill="#f5a300"/>
<circle cx="778.2" cy="577.9" r="5.7" fill="#f5a300"/>
<circle cx="814.7" cy="579.3" r="5.7" fill="#f5a300"/>
<circle cx="842.1" cy="581.5" r="5.7" fill="#f5a300"/>
<circle cx="868.5" cy="587.0" r="5.7" fill="#f5a300"/>
<circle cx="876.3" cy="584.7" r="5.7" fill="#f5a300"/>
<circle cx="753.1" cy="587.0" r="5.7" fill="#f5a300"/>
<circle cx="1002.2" cy="566.9" r="5.7" fill="#f5a300"/>
<circle cx="583.2" cy="672.3" r="5.7" fill="#f5a300"/>
<circle cx="564.9" cy="686.5" r="5.7" fill="#f5a300"/>
<circle cx="564.9" cy="695.6" r="5.7" fill="#f5a300"/>
<circle cx="574.0" cy="686.5" r="5.7" fill="#f5a300"/>
<circle cx="574.0" cy="696.8" r="5.7" fill="#f5a300"/>
<circle cx="592.3" cy="684.2" r="5.7" fill="#f5a300"/>
<circle cx="592.3" cy="691.1" r="5.7" fill="#f5a300"/>
<circle cx="592.3" cy="699.0" r="5.7" fill="#f5a300"/>
<circle cx="681.0" cy="802.8" r="5.7" fill="#f5a300"/>
<circle cx="770.0" cy="808.7" r="5.7" fill="#f5a300"/>
<circle cx="788.2" cy="808.7" r="5.7" fill="#f5a300"/>
<circle cx="609.7" cy="847.2" r="5.7" fill="#f5a300"/>
<circle cx="609.7" cy="857.5" r="5.7" fill="#f5a300"/>
<circle cx="609.7" cy="868.9" r="5.7" fill="#f5a300"/>
<circle cx="618.2" cy="852.9" r="5.7" fill="#f5a300"/>
<circle cx="618.2" cy="863.2" r="5.7" fill="#f5a300"/>
<circle cx="627.4" cy="855.8" r="5.7" fill="#f5a300"/>
<circle cx="645.6" cy="865.5" r="5.7" fill="#f5a300"/>
<circle cx="564.9" cy="691.1" r="5.7" fill="#f5a300"/>
<circle cx="574.0" cy="691.1" r="5.7" fill="#f5a300"/>
<circle cx="569.5" cy="686.5" r="5.7" fill="#f5a300"/>
<circle cx="569.5" cy="695.6" r="5.7" fill="#f5a300"/>
<circle cx="592.3" cy="687.6" r="5.7" fill="#f5a300"/>
<circle cx="592.3" cy="695.6" r="5.7" fill="#f5a300"/>
<circle cx="601.1" cy="865.5" r="5.7" fill="#f5a300"/>
<circle cx="609.7" cy="863.2" r="5.7" fill="#f5a300"/>
<circle cx="618.2" cy="857.5" r="5.7" fill="#f5a300"/>
<circle cx="604.5" cy="855.2" r="5.7" fill="#f5a300"/>
<circle cx="733.4" cy="572.4" r="5.7" fill="#c08a20"/>
<circle cx="601.1" cy="859.8" r="5.7" fill="#c08a20"/>
<circle cx="601.1" cy="872.3" r="5.7" fill="#c08a20"/>
<circle cx="609.1" cy="61.1" r="5.7" fill="#f20f0f"/>
<circle cx="609.1" cy="66.1" r="5.7" fill="#f20f0f"/>
<circle cx="618.5" cy="51.3" r="5.7" fill="#f20f0f"/>
<circle cx="627.4" cy="52.2" r="5.7" fill="#f20f0f"/>
<circle cx="636.3" cy="69.1" r="5.7" fill="#f20f0f"/>
<circle cx="645.2" cy="67.0" r="5.7" fill="#f20f0f"/>
<circle cx="680.8" cy="46.9" r="5.7" fill="#f20f0f"/>
<circle cx="671.9" cy="64.1" r="5.7" fill="#f20f0f"/>
<circle cx="680.8" cy="63.2" r="5.7" fill="#f20f0f"/>
<circle cx="680.8" cy="67.0" r="5.7" fill="#f20f0f"/>
<circle cx="689.7" cy="64.1" r="5.7" fill="#f20f0f"/>
<circle cx="671.9" cy="125.4" r="5.7" fill="#f20f0f"/>
<circle cx="707.5" cy="109.1" r="5.7" fill="#f20f0f"/>
<circle cx="734.2" cy="119.5" r="5.7" fill="#f20f0f"/>
<circle cx="779.2" cy="119.5" r="5.7" fill="#f20f0f"/>
<circle cx="779.2" cy="124.5" r="5.7" fill="#f20f0f"/>
<circle cx="868.2" cy="115.6" r="5.7" fill="#f20f0f"/>
<circle cx="957.4" cy="121.9" r="5.7" fill="#f20f0f"/>
<circle cx="1073.6" cy="123.1" r="5.7" fill="#f20f0f"/>
<circle cx="636.3" cy="186.2" r="5.7" fill="#f20f0f"/>
<circle cx="565.4" cy="238.2" r="5.7" fill="#f20f0f"/>
<circle cx="602.3" cy="223.7" r="5.7" fill="#f20f0f"/>
<circle cx="618.2" cy="228.3" r="5.7" fill="#f20f0f"/>
<circle cx="1269.6" cy="234.2" r="5.7" fill="#f20f0f"/>
<circle cx="672.1" cy="278.4" r="5.7" fill="#f20f0f"/>
<circle cx="779.2" cy="304.0" r="5.7" fill="#f20f0f"/>
<circle cx="850.4" cy="284.4" r="5.7" fill="#f20f0f"/>
<circle cx="868.6" cy="292.1" r="5.7" fill="#f20f0f"/>
<circle cx="602.3" cy="351.4" r="5.7" fill="#f20f0f"/>
<circle cx="707.6" cy="346.9" r="5.7" fill="#f20f0f"/>
<circle cx="993.2" cy="361.9" r="5.7" fill="#f20f0f"/>
<circle cx="1216.2" cy="361.9" r="5.7" fill="#f20f0f"/>
<circle cx="565.2" cy="398.5" r="5.7" fill="#f20f0f"/>
<circle cx="627.5" cy="409.8" r="5.7" fill="#f20f0f"/>
<circle cx="645.5" cy="398.2" r="5.7" fill="#f20f0f"/>
<circle cx="654.4" cy="410.4" r="5.7" fill="#f20f0f"/>
<circle cx="672.2" cy="405.4" r="5.7" fill="#f20f0f"/>
<circle cx="707.5" cy="414.8" r="5.7" fill="#f20f0f"/>
<circle cx="717.1" cy="414.2" r="5.7" fill="#f20f0f"/>
<circle cx="761.3" cy="401.5" r="5.7" fill="#f20f0f"/>
<circle cx="1287.8" cy="400.7" r="5.7" fill="#f20f0f"/>
<circle cx="440.0" cy="455.1" r="5.7" fill="#f20f0f"/>
<circle cx="440.0" cy="462.8" r="5.7" fill="#f20f0f"/>
<circle cx="440.0" cy="468.5" r="5.7" fill="#f20f0f"/>
<circle cx="895.2" cy="517.4" r="5.7" fill="#f20f0f"/>
<circle cx="1171.6" cy="514.7" r="5.7" fill="#f20f0f"/>
<circle cx="1180.8" cy="527.7" r="5.7" fill="#f20f0f"/>
<circle cx="1252.0" cy="514.0" r="5.7" fill="#f20f0f"/>
<circle cx="1261.2" cy="520.8" r="5.7" fill="#f20f0f"/>
<circle cx="1270.1" cy="506.1" r="5.7" fill="#f20f0f"/>
<circle cx="1386.1" cy="522.5" r="5.7" fill="#f20f0f"/>
<circle cx="797.0" cy="571.0" r="5.7" fill="#f20f0f"/>
<circle cx="796.4" cy="570.1" r="5.7" fill="#f20f0f"/>
<circle cx="842.1" cy="573.3" r="5.7" fill="#f20f0f"/>
<circle cx="858.9" cy="579.3" r="5.7" fill="#f20f0f"/>
<circle cx="868.5" cy="568.8" r="5.7" fill="#f20f0f"/>
<circle cx="903.6" cy="570.1" r="5.7" fill="#f20f0f"/>
<circle cx="912.7" cy="577.9" r="5.7" fill="#f20f0f"/>
<circle cx="903.6" cy="584.7" r="5.7" fill="#f20f0f"/>
<circle cx="912.7" cy="584.7" r="5.7" fill="#f20f0f"/>
<circle cx="957.4" cy="568.3" r="5.7" fill="#f20f0f"/>
<circle cx="1019.9" cy="575.6" r="5.7" fill="#f20f0f"/>
<circle cx="1127.4" cy="568.4" r="5.7" fill="#f20f0f"/>
<circle cx="1154.2" cy="572.9" r="5.7" fill="#f20f0f"/>
<circle cx="1260.8" cy="567.2" r="5.7" fill="#f20f0f"/>
<circle cx="1270.2" cy="572.7" r="5.7" fill="#f20f0f"/>
<circle cx="1412.7" cy="569.8" r="5.7" fill="#f20f0f"/>
<circle cx="912.8" cy="633.8" r="5.7" fill="#f20f0f"/>
<circle cx="931.1" cy="616.4" r="5.7" fill="#f20f0f"/>
<circle cx="1002.2" cy="633.8" r="5.7" fill="#f20f0f"/>
<circle cx="1011.4" cy="622.3" r="5.7" fill="#f20f0f"/>
<circle cx="1011.4" cy="634.7" r="5.7" fill="#f20f0f"/>
<circle cx="1020.5" cy="634.7" r="5.7" fill="#f20f0f"/>
<circle cx="1046.9" cy="629.6" r="5.7" fill="#f20f0f"/>
<circle cx="1091.2" cy="621.0" r="5.7" fill="#f20f0f"/>
<circle cx="1100.3" cy="628.3" r="5.7" fill="#f20f0f"/>
<circle cx="1109.4" cy="628.3" r="5.7" fill="#f20f0f"/>
<circle cx="1189.2" cy="626.9" r="5.7" fill="#f20f0f"/>
<circle cx="1198.8" cy="632.4" r="5.7" fill="#f20f0f"/>
<circle cx="1314.7" cy="634.2" r="5.7" fill="#f20f0f"/>
<circle cx="1358.9" cy="629.2" r="5.7" fill="#f20f0f"/>
<circle cx="1421.8" cy="638.8" r="5.7" fill="#f20f0f"/>
<circle cx="1493.0" cy="621.0" r="5.7" fill="#f20f0f"/>
<circle cx="1519.9" cy="643.3" r="5.7" fill="#f20f0f"/>
<circle cx="1635.8" cy="629.2" r="5.7" fill="#f20f0f"/>
<circle cx="609.4" cy="683.7" r="5.7" fill="#f20f0f"/>
<circle cx="627.6" cy="687.6" r="5.7" fill="#f20f0f"/>
<circle cx="618.5" cy="698.5" r="5.7" fill="#f20f0f"/>
<circle cx="627.6" cy="695.6" r="5.7" fill="#f20f0f"/>
<circle cx="636.2" cy="698.5" r="5.7" fill="#f20f0f"/>
<circle cx="645.3" cy="685.4" r="5.7" fill="#f20f0f"/>
<circle cx="707.9" cy="679.0" r="5.7" fill="#f20f0f"/>
<circle cx="770.3" cy="684.3" r="5.7" fill="#f20f0f"/>
<circle cx="841.5" cy="689.4" r="5.7" fill="#f20f0f"/>
<circle cx="850.9" cy="682.1" r="5.7" fill="#f20f0f"/>
<circle cx="1091.4" cy="691.9" r="5.7" fill="#f20f0f"/>
<circle cx="1198.7" cy="684.3" r="5.7" fill="#f20f0f"/>
<circle cx="761.3" cy="751.3" r="5.7" fill="#f20f0f"/>
<circle cx="681.0" cy="848.9" r="5.7" fill="#f20f0f"/>
<circle cx="707.5" cy="863.0" r="5.7" fill="#f20f0f"/>
<circle cx="591.4" cy="225.9" r="5.7" fill="#f20f0f"/>
<rect x="244.00" y="90.39" width="303.31" height="3.4" fill="#6e8287"/>
<rect x="547.31" y="90.39" width="26.76" height="3.4" fill="#a8937a"/>
<rect x="574.08" y="90.39" width="89.21" height="3.4" fill="#ac8e83"/>
<rect x="663.29" y="90.39" width="1454.12" height="3.4" fill="#b0888c"/>
<rect x="244.00" y="147.18" width="303.31" height="3.4" fill="#6e8287"/>
<rect x="547.31" y="147.18" width="35.68" height="3.4" fill="#8b8a80"/>
<rect x="583.00" y="147.18" width="44.60" height="3.4" fill="#a8937a"/>
<rect x="627.60" y="147.18" width="35.68" height="3.4" fill="#ac8e83"/>
<rect x="663.29" y="147.18" width="1454.12" height="3.4" fill="#b0888c"/>
<rect x="244.00" y="203.97" width="285.47" height="3.4" fill="#6e8287"/>
<rect x="529.47" y="203.97" width="26.76" height="3.4" fill="#8b8a80"/>
<rect x="556.23" y="203.97" width="26.76" height="3.4" fill="#8f858a"/>
<rect x="583.00" y="203.97" width="44.60" height="3.4" fill="#ac8e83"/>
<rect x="627.60" y="203.97" width="1489.81" height="3.4" fill="#b0888c"/>
<rect x="244.00" y="260.76" width="285.47" height="3.4" fill="#6e8287"/>
<rect x="529.47" y="260.76" width="26.76" height="3.4" fill="#8b8a80"/>
<rect x="556.23" y="260.76" width="80.29" height="3.4" fill="#8f858a"/>
<rect x="636.52" y="260.76" width="133.81" height="3.4" fill="#ac8e83"/>
<rect x="770.34" y="260.76" width="1347.07" height="3.4" fill="#b0888c"/>
<rect x="244.00" y="317.55" width="294.39" height="3.4" fill="#6e8287"/>
<rect x="538.39" y="317.55" width="26.76" height="3.4" fill="#8b8a80"/>
<rect x="565.16" y="317.55" width="71.37" height="3.4" fill="#8f858a"/>
<rect x="636.52" y="317.55" width="133.81" height="3.4" fill="#ac8e83"/>
<rect x="770.34" y="317.55" width="1347.07" height="3.4" fill="#b0888c"/>
<rect x="244.00" y="374.34" width="267.63" height="3.4" fill="#6e8287"/>
<rect x="511.63" y="374.34" width="26.76" height="3.4" fill="#8f858a"/>
<rect x="538.39" y="374.34" width="26.76" height="3.4" fill="#ac8e83"/>
<rect x="565.16" y="374.34" width="1552.25" height="3.4" fill="#b0888c"/>
<rect x="244.00" y="431.13" width="160.58" height="3.4" fill="#6e8287"/>
<rect x="404.58" y="431.13" width="8.92" height="3.4" fill="#8b8a80"/>
<rect x="413.50" y="431.13" width="98.13" height="3.4" fill="#8f858a"/>
<rect x="511.63" y="431.13" width="1605.78" height="3.4" fill="#b0888c"/>
<rect x="244.00" y="487.92" width="160.58" height="3.4" fill="#6e8287"/>
<rect x="404.58" y="487.92" width="8.92" height="3.4" fill="#8b8a80"/>
<rect x="413.50" y="487.92" width="133.81" height="3.4" fill="#8f858a"/>
<rect x="547.31" y="487.92" width="133.81" height="3.4" fill="#ac8e83"/>
<rect x="681.13" y="487.92" width="1436.28" height="3.4" fill="#b0888c"/>
<rect x="244.00" y="544.71" width="303.31" height="3.4" fill="#6e8287"/>
<rect x="547.31" y="544.71" width="133.81" height="3.4" fill="#8b8a80"/>
<rect x="681.13" y="544.71" width="53.53" height="3.4" fill="#8f858a"/>
<rect x="734.65" y="544.71" width="1284.62" height="3.4" fill="#ac8e83"/>
<rect x="2019.28" y="544.71" width="98.13" height="3.4" fill="#b0888c"/>
<rect x="244.00" y="601.50" width="392.52" height="3.4" fill="#6e8287"/>
<rect x="636.52" y="601.50" width="98.13" height="3.4" fill="#8b8a80"/>
<rect x="734.65" y="601.50" width="89.21" height="3.4" fill="#a8937a"/>
<rect x="823.87" y="601.50" width="1195.41" height="3.4" fill="#ac8e83"/>
<rect x="2019.28" y="601.50" width="98.13" height="3.4" fill="#b0888c"/>
<rect x="244.00" y="658.29" width="312.23" height="3.4" fill="#6e8287"/>
<rect x="556.23" y="658.29" width="44.60" height="3.4" fill="#8b8a80"/>
<rect x="600.84" y="658.29" width="35.68" height="3.4" fill="#8f858a"/>
<rect x="636.52" y="658.29" width="187.34" height="3.4" fill="#ac8e83"/>
<rect x="823.87" y="658.29" width="1293.54" height="3.4" fill="#b0888c"/>
<rect x="244.00" y="715.08" width="312.23" height="3.4" fill="#6e8287"/>
<rect x="556.23" y="715.08" width="44.60" height="3.4" fill="#8b8a80"/>
<rect x="600.84" y="715.08" width="133.81" height="3.4" fill="#ac8e83"/>
<rect x="734.65" y="715.08" width="1382.75" height="3.4" fill="#b0888c"/>
<rect x="244.00" y="771.87" width="276.55" height="3.4" fill="#6e8287"/>
<rect x="520.55" y="771.87" width="80.29" height="3.4" fill="#8b8a80"/>
<rect x="600.84" y="771.87" width="133.81" height="3.4" fill="#a8937a"/>
<rect x="734.65" y="771.87" width="89.21" height="3.4" fill="#ac8e83"/>
<rect x="823.87" y="771.87" width="1293.54" height="3.4" fill="#b0888c"/>
<rect x="244.00" y="828.66" width="276.55" height="3.4" fill="#6e8287"/>
<rect x="520.55" y="828.66" width="80.29" height="3.4" fill="#8b8a80"/>
<rect x="600.84" y="828.66" width="71.37" height="3.4" fill="#a8937a"/>
<rect x="672.21" y="828.66" width="151.66" height="3.4" fill="#ac8e83"/>
<rect x="823.87" y="828.66" width="1293.54" height="3.4" fill="#b0888c"/>
<rect x="546.21" y="35.60" width="2.8" height="56.79" fill="#8b8a80"/>
<rect x="572.38" y="35.60" width="3.4" height="56.79" fill="#ac8e83"/>
<rect x="546.21" y="92.39" width="2.8" height="56.79" fill="#8b8a80"/>
<rect x="661.59" y="92.39" width="3.4" height="56.79" fill="#ac8e83"/>
<rect x="581.90" y="149.18" width="2.8" height="56.79" fill="#8b8a80"/>
<rect x="625.90" y="149.18" width="3.4" height="56.79" fill="#ac8e83"/>
<rect x="528.37" y="205.97" width="2.8" height="56.79" fill="#8b8a80"/>
<rect x="554.53" y="205.97" width="3.4" height="56.79" fill="#ac8e83"/>
<rect x="635.42" y="262.76" width="2.8" height="56.79" fill="#8b8a80"/>
<rect x="768.64" y="262.76" width="3.4" height="56.79" fill="#ac8e83"/>
<rect x="537.29" y="319.55" width="2.8" height="56.79" fill="#8b8a80"/>
<rect x="563.46" y="319.55" width="3.4" height="56.79" fill="#ac8e83"/>
<rect x="510.53" y="376.34" width="2.8" height="56.79" fill="#8f858a"/>
<rect x="403.48" y="433.13" width="2.8" height="56.79" fill="#8b8a80"/>
<rect x="411.80" y="433.13" width="3.4" height="56.79" fill="#ac8e83"/>
<rect x="546.21" y="489.92" width="2.8" height="56.79" fill="#8b8a80"/>
<rect x="679.43" y="489.92" width="3.4" height="56.79" fill="#ac8e83"/>
<rect x="733.55" y="546.71" width="2.8" height="56.79" fill="#8b8a80"/>
<rect x="2017.58" y="546.71" width="3.4" height="56.79" fill="#ac8e83"/>
<rect x="635.42" y="603.50" width="2.8" height="56.79" fill="#8b8a80"/>
<rect x="822.16" y="603.50" width="3.4" height="56.79" fill="#ac8e83"/>
<rect x="555.13" y="660.29" width="2.8" height="56.79" fill="#8b8a80"/>
<rect x="599.14" y="660.29" width="3.4" height="56.79" fill="#ac8e83"/>
<rect x="599.74" y="717.08" width="2.8" height="56.79" fill="#8b8a80"/>
<rect x="732.95" y="717.08" width="3.4" height="56.79" fill="#ac8e83"/>
<rect x="519.45" y="773.87" width="2.8" height="56.79" fill="#8b8a80"/>
<rect x="822.16" y="773.87" width="3.4" height="56.79" fill="#ac8e83"/>
<rect x="599.74" y="830.66" width="2.8" height="56.79" fill="#8b8a80"/>
<rect x="670.51" y="830.66" width="3.4" height="56.79" fill="#ac8e83"/>
<rect x="244.00" y="35.60" width="1873.41" height="851.85" fill="none" stroke="#000" stroke-width="2.2"/>
<line x1="235.8" y1="64.00" x2="244.0" y2="64.00" stroke="#000" stroke-width="2"/>
<text x="230.3" y="77.20" text-anchor="end" class="ylab" dy="1">AR</text>
<line x1="235.8" y1="120.78" x2="244.0" y2="120.78" stroke="#000" stroke-width="2"/>
<text x="230.3" y="133.98" text-anchor="end" class="ylab" dy="1">ATN1</text>
<line x1="235.8" y1="177.57" x2="244.0" y2="177.57" stroke="#000" stroke-width="2"/>
<text x="230.3" y="190.77" text-anchor="end" class="ylab" dy="1">ATXN1</text>
<line x1="235.8" y1="234.36" x2="244.0" y2="234.36" stroke="#000" stroke-width="2"/>
<text x="230.3" y="247.56" text-anchor="end" class="ylab" dy="1">ATXN2</text>
<line x1="235.8" y1="291.16" x2="244.0" y2="291.16" stroke="#000" stroke-width="2"/>
<text x="230.3" y="304.36" text-anchor="end" class="ylab" dy="1">ATXN3</text>
<line x1="235.8" y1="347.94" x2="244.0" y2="347.94" stroke="#000" stroke-width="2"/>
<text x="230.3" y="361.14" text-anchor="end" class="ylab" dy="1">ATXN7</text>
<line x1="235.8" y1="404.74" x2="244.0" y2="404.74" stroke="#000" stroke-width="2"/>
<text x="230.3" y="417.94" text-anchor="end" class="ylab" dy="1">C9orf72</text>
<line x1="235.8" y1="461.53" x2="244.0" y2="461.53" stroke="#000" stroke-width="2"/>
<text x="230.3" y="474.73" text-anchor="end" class="ylab" dy="1">CACNA1A</text>
<line x1="235.8" y1="518.31" x2="244.0" y2="518.31" stroke="#000" stroke-width="2"/>
<text x="230.3" y="531.51" text-anchor="end" class="ylab" dy="1">DMPK</text>
<line x1="235.8" y1="575.11" x2="244.0" y2="575.11" stroke="#000" stroke-width="2"/>
<text x="230.3" y="588.31" text-anchor="end" class="ylab" dy="1">FMR1</text>
<line x1="235.8" y1="631.89" x2="244.0" y2="631.89" stroke="#000" stroke-width="2"/>
<text x="230.3" y="645.10" text-anchor="end" class="ylab" dy="1">FXN</text>
<line x1="235.8" y1="688.69" x2="244.0" y2="688.69" stroke="#000" stroke-width="2"/>
<text x="230.3" y="701.89" text-anchor="end" class="ylab" dy="1">HTT</text>
<line x1="235.8" y1="745.48" x2="244.0" y2="745.48" stroke="#000" stroke-width="2"/>
<text x="230.3" y="758.68" text-anchor="end" class="ylab" dy="1">NOTCH2NLC</text>
<line x1="235.8" y1="802.26" x2="244.0" y2="802.26" stroke="#000" stroke-width="2"/>
<text x="230.3" y="815.47" text-anchor="end" class="ylab" dy="1">PPP2R2B</text>
<line x1="235.8" y1="859.06" x2="244.0" y2="859.06" stroke="#000" stroke-width="2"/>
<text x="230.3" y="872.26" text-anchor="end" class="ylab" dy="1">TBP</text>
<line x1="244.00" y1="887.5" x2="244.00" y2="895.5" stroke="#000" stroke-width="2"/>
<text x="244.00" y="930.8" text-anchor="middle" class="xtl">0</text>
<line x1="467.02" y1="887.5" x2="467.02" y2="895.5" stroke="#000" stroke-width="2"/>
<text x="467.02" y="930.8" text-anchor="middle" class="xtl">25</text>
<line x1="690.05" y1="887.5" x2="690.05" y2="895.5" stroke="#000" stroke-width="2"/>
<text x="690.05" y="930.8" text-anchor="middle" class="xtl">50</text>
<line x1="913.07" y1="887.5" x2="913.07" y2="895.5" stroke="#000" stroke-width="2"/>
<text x="913.07" y="930.8" text-anchor="middle" class="xtl">75</text>
<line x1="1136.10" y1="887.5" x2="1136.10" y2="895.5" stroke="#000" stroke-width="2"/>
<text x="1136.10" y="930.8" text-anchor="middle" class="xtl">100</text>
<line x1="1359.12" y1="887.5" x2="1359.12" y2="895.5" stroke="#000" stroke-width="2"/>
<text x="1359.12" y="930.8" text-anchor="middle" class="xtl">125</text>
<line x1="1582.15" y1="887.5" x2="1582.15" y2="895.5" stroke="#000" stroke-width="2"/>
<text x="1582.15" y="930.8" text-anchor="middle" class="xtl">150</text>
<line x1="1805.17" y1="887.5" x2="1805.17" y2="895.5" stroke="#000" stroke-width="2"/>
<text x="1805.17" y="930.8" text-anchor="middle" class="xtl">175</text>
<line x1="2028.20" y1="887.5" x2="2028.20" y2="895.5" stroke="#000" stroke-width="2"/>
<text x="2028.20" y="930.8" text-anchor="middle" class="xtl">200</text>
<text x="1182.2" y="974.7" text-anchor="middle" class="xlab">WGS repeat-sizes</text>
</g>
<text x="-1" y="47.9" class="plab">A</text>
<text x="1" y="1045.4" class="plab">B</text>
<rect x="128.1" y="1089.4" width="614.80" height="614.30" fill="#ebebeb"/>
<svg x="128.1" y="1089.4" width="614.80" height="614.30" viewBox="128.1 1089.4 614.80 614.30" overflow="hidden">
<line x1="156.00" y1="1089.4" x2="156.00" y2="1703.7" stroke="#fff" stroke-width="0.9"/>
<line x1="267.80" y1="1089.4" x2="267.80" y2="1703.7" stroke="#fff" stroke-width="0.9"/>
<line x1="379.60" y1="1089.4" x2="379.60" y2="1703.7" stroke="#fff" stroke-width="0.9"/>
<line x1="491.40" y1="1089.4" x2="491.40" y2="1703.7" stroke="#fff" stroke-width="0.9"/>
<line x1="603.20" y1="1089.4" x2="603.20" y2="1703.7" stroke="#fff" stroke-width="0.9"/>
<line x1="715.00" y1="1089.4" x2="715.00" y2="1703.7" stroke="#fff" stroke-width="0.9"/>
<line x1="128.1" y1="1675.85" x2="742.9" y2="1675.85" stroke="#fff" stroke-width="0.9"/>
<line x1="128.1" y1="1564.15" x2="742.9" y2="1564.15" stroke="#fff" stroke-width="0.9"/>
<line x1="128.1" y1="1452.45" x2="742.9" y2="1452.45" stroke="#fff" stroke-width="0.9"/>
<line x1="128.1" y1="1340.75" x2="742.9" y2="1340.75" stroke="#fff" stroke-width="0.9"/>
<line x1="128.1" y1="1229.05" x2="742.9" y2="1229.05" stroke="#fff" stroke-width="0.9"/>
<line x1="128.1" y1="1117.35" x2="742.9" y2="1117.35" stroke="#fff" stroke-width="0.9"/>
<line x1="211.90" y1="1089.4" x2="211.90" y2="1703.7" stroke="#fff" stroke-width="1.7"/>
<line x1="323.70" y1="1089.4" x2="323.70" y2="1703.7" stroke="#fff" stroke-width="1.7"/>
<line x1="435.50" y1="1089.4" x2="435.50" y2="1703.7" stroke="#fff" stroke-width="1.7"/>
<line x1="547.30" y1="1089.4" x2="547.30" y2="1703.7" stroke="#fff" stroke-width="1.7"/>
<line x1="659.10" y1="1089.4" x2="659.10" y2="1703.7" stroke="#fff" stroke-width="1.7"/>
<line x1="128.1" y1="1620.00" x2="742.9" y2="1620.00" stroke="#fff" stroke-width="1.7"/>
<line x1="128.1" y1="1508.30" x2="742.9" y2="1508.30" stroke="#fff" stroke-width="1.7"/>
<line x1="128.1" y1="1396.60" x2="742.9" y2="1396.60" stroke="#fff" stroke-width="1.7"/>
<line x1="128.1" y1="1284.90" x2="742.9" y2="1284.90" stroke="#fff" stroke-width="1.7"/>
<line x1="128.1" y1="1173.20" x2="742.9" y2="1173.20" stroke="#fff" stroke-width="1.7"/>
<circle cx="390.8" cy="1463.6" r="2.6" fill="#fb9a99"/>
<circle cx="334.9" cy="1486.0" r="5.5" fill="#33a02c"/>
<circle cx="346.1" cy="1486.0" r="8.5" fill="#33a02c"/>
<circle cx="357.2" cy="1474.8" r="5" fill="#33a02c"/>
<circle cx="368.4" cy="1474.8" r="2.7" fill="#33a02c"/>
<circle cx="346.1" cy="1474.8" r="3" fill="#33a02c"/>
<circle cx="357.2" cy="1486.0" r="3" fill="#33a02c"/>
<circle cx="346.1" cy="1508.3" r="2.7" fill="#fb9a99"/>
<circle cx="357.2" cy="1508.3" r="2.7" fill="#fb9a99"/>
<circle cx="312.5" cy="1519.5" r="2.8" fill="#b15928"/>
<circle cx="301.3" cy="1530.6" r="2.8" fill="#b15928"/>
<circle cx="290.2" cy="1541.8" r="2.8" fill="#a6cee3"/>
<circle cx="279.0" cy="1553.0" r="2.8" fill="#1f78b4"/>
<circle cx="267.8" cy="1564.2" r="2.8" fill="#b15928"/>
<circle cx="245.4" cy="1586.5" r="2.8" fill="#ff7f00"/>
<circle cx="234.3" cy="1597.7" r="2.8" fill="#ff7f00"/>
<circle cx="256.6" cy="1597.7" r="2.8" fill="#e31a1c"/>
<circle cx="223.1" cy="1608.8" r="8.2" fill="#ff7f00"/>
<circle cx="245.4" cy="1608.8" r="6" fill="#e31a1c"/>
<circle cx="234.3" cy="1620.0" r="5.1" fill="#e31a1c"/>
<circle cx="211.9" cy="1620.0" r="2.8" fill="#e31a1c"/>
<circle cx="189.5" cy="1642.3" r="2.8" fill="#ffff99"/>
<circle cx="178.4" cy="1653.5" r="2.8" fill="#fdbf6f"/>
<circle cx="167.2" cy="1664.7" r="2.8" fill="#fdbf6f"/>
<circle cx="189.5" cy="1664.7" r="2.8" fill="#ffff99"/>
<circle cx="435.5" cy="1173.2" r="2.8" fill="#6a3d9a"/>
<circle cx="636.7" cy="1206.7" r="2.8" fill="#6a3d9a"/>
<circle cx="569.7" cy="1262.6" r="2.8" fill="#45aaa5"/>
<circle cx="569.7" cy="1296.1" r="2.8" fill="#6a3d9a"/>
<circle cx="491.4" cy="1307.2" r="2.8" fill="#45aaa5"/>
<circle cx="524.9" cy="1307.2" r="2.8" fill="#45aaa5"/>
<circle cx="513.8" cy="1318.4" r="2.8" fill="#b2df8a"/>
<circle cx="480.2" cy="1351.9" r="2.8" fill="#45aaa5"/>
<circle cx="469.0" cy="1363.1" r="4.5" fill="#b2df8a"/>
<circle cx="457.9" cy="1374.3" r="2.8" fill="#b2df8a"/>
<circle cx="424.3" cy="1396.6" r="2.8" fill="#6a3d9a"/>
<circle cx="435.5" cy="1396.6" r="2.8" fill="#6a3d9a"/>
<circle cx="457.9" cy="1396.6" r="2.8" fill="#fb9a99"/>
<circle cx="491.4" cy="1396.6" r="2.8" fill="#fb9a99"/>
<circle cx="446.7" cy="1407.8" r="2.8" fill="#fb9a99"/>
<circle cx="424.3" cy="1407.8" r="2.8" fill="#33a02c"/>
<circle cx="402.0" cy="1418.9" r="2.8" fill="#b2df8a"/>
<circle cx="413.1" cy="1418.9" r="5" fill="#b2df8a"/>
<circle cx="413.1" cy="1418.9" r="2.8" fill="#b15928"/>
<circle cx="390.8" cy="1441.3" r="2.8" fill="#b2df8a"/>
<line x1="128.13" y1="1703.70" x2="56000.10" y2="-54118.30" stroke="#b4b4b4" stroke-opacity="0.8" stroke-width="1.5" stroke-dasharray="6.5 5"/>
</svg>
<line x1="211.90" y1="1703.7" x2="211.90" y2="1707.0" stroke="#333" stroke-width="1.1"/>
<text x="211.90" y="1719.10" text-anchor="middle" class="btick">10</text>
<line x1="323.70" y1="1703.7" x2="323.70" y2="1707.0" stroke="#333" stroke-width="1.1"/>
<text x="323.70" y="1719.10" text-anchor="middle" class="btick">20</text>
<line x1="435.50" y1="1703.7" x2="435.50" y2="1707.0" stroke="#333" stroke-width="1.1"/>
<text x="435.50" y="1719.10" text-anchor="middle" class="btick">30</text>
<line x1="547.30" y1="1703.7" x2="547.30" y2="1707.0" stroke="#333" stroke-width="1.1"/>
<text x="547.30" y="1719.10" text-anchor="middle" class="btick">40</text>
<line x1="659.10" y1="1703.7" x2="659.10" y2="1707.0" stroke="#333" stroke-width="1.1"/>
<text x="659.10" y="1719.10" text-anchor="middle" class="btick">50</text>
<line x1="124.8" y1="1620.00" x2="128.1" y2="1620.00" stroke="#333" stroke-width="1.1"/>
<text x="121.20" y="1624.10" text-anchor="end" class="btick">10</text>
<line x1="124.8" y1="1508.30" x2="128.1" y2="1508.30" stroke="#333" stroke-width="1.1"/>
<text x="121.20" y="1512.40" text-anchor="end" class="btick">20</text>
<line x1="124.8" y1="1396.60" x2="128.1" y2="1396.60" stroke="#333" stroke-width="1.1"/>
<text x="121.20" y="1400.70" text-anchor="end" class="btick">30</text>
<line x1="124.8" y1="1284.90" x2="128.1" y2="1284.90" stroke="#333" stroke-width="1.1"/>
<text x="121.20" y="1289.00" text-anchor="end" class="btick">40</text>
<line x1="124.8" y1="1173.20" x2="128.1" y2="1173.20" stroke="#333" stroke-width="1.1"/>
<text x="121.20" y="1177.30" text-anchor="end" class="btick">50</text>
<text x="435.5" y="1078.9" text-anchor="middle" class="btitle">AFR</text>
<text y="1134.0" class="ann"><tspan x="157.4" font-style="italic">R</tspan><tspan x="170.6">=</tspan><tspan x="183.2" textLength="32.0" lengthAdjust="spacingAndGlyphs">0.96,</tspan><tspan x="222.0" font-style="italic" textLength="61.9" lengthAdjust="spacingAndGlyphs">p=1.1x10</tspan><tspan x="285.9" dy="-11.7" font-style="italic" font-size="11.6px">-28</tspan></text>
<rect x="821.9" y="1089.6" width="614.50" height="614.10" fill="#ebebeb"/>
<svg x="821.9" y="1089.6" width="614.50" height="614.10" viewBox="821.9 1089.6 614.50 614.10" overflow="hidden">
<line x1="850.25" y1="1089.6" x2="850.25" y2="1703.7" stroke="#fff" stroke-width="0.9"/>
<line x1="1000.95" y1="1089.6" x2="1000.95" y2="1703.7" stroke="#fff" stroke-width="0.9"/>
<line x1="1151.65" y1="1089.6" x2="1151.65" y2="1703.7" stroke="#fff" stroke-width="0.9"/>
<line x1="1302.35" y1="1089.6" x2="1302.35" y2="1703.7" stroke="#fff" stroke-width="0.9"/>
<line x1="821.9" y1="1675.25" x2="1436.4" y2="1675.25" stroke="#fff" stroke-width="0.9"/>
<line x1="821.9" y1="1524.55" x2="1436.4" y2="1524.55" stroke="#fff" stroke-width="0.9"/>
<line x1="821.9" y1="1373.85" x2="1436.4" y2="1373.85" stroke="#fff" stroke-width="0.9"/>
<line x1="821.9" y1="1223.15" x2="1436.4" y2="1223.15" stroke="#fff" stroke-width="0.9"/>
<line x1="925.60" y1="1089.6" x2="925.60" y2="1703.7" stroke="#fff" stroke-width="1.7"/>
<line x1="1076.30" y1="1089.6" x2="1076.30" y2="1703.7" stroke="#fff" stroke-width="1.7"/>
<line x1="1227.00" y1="1089.6" x2="1227.00" y2="1703.7" stroke="#fff" stroke-width="1.7"/>
<line x1="1377.70" y1="1089.6" x2="1377.70" y2="1703.7" stroke="#fff" stroke-width="1.7"/>
<line x1="821.9" y1="1599.90" x2="1436.4" y2="1599.90" stroke="#fff" stroke-width="1.7"/>
<line x1="821.9" y1="1449.20" x2="1436.4" y2="1449.20" stroke="#fff" stroke-width="1.7"/>
<line x1="821.9" y1="1298.50" x2="1436.4" y2="1298.50" stroke="#fff" stroke-width="1.7"/>
<line x1="821.9" y1="1147.80" x2="1436.4" y2="1147.80" stroke="#fff" stroke-width="1.7"/>
<circle cx="1332.5" cy="1193.0" r="7.3" fill="#45aaa5"/>
<circle cx="1272.2" cy="1253.3" r="2.6" fill="#b2df8a"/>
<circle cx="1242.1" cy="1283.4" r="7.5" fill="#b2df8a"/>
<circle cx="1227.0" cy="1298.5" r="2.5" fill="#b2df8a"/>
<circle cx="1211.9" cy="1313.6" r="2.5" fill="#b2df8a"/>
<circle cx="1181.8" cy="1343.7" r="2.6" fill="#a6cee3"/>
<circle cx="1211.9" cy="1343.7" r="2.6" fill="#fb9a99"/>
<circle cx="1242.1" cy="1358.8" r="2.6" fill="#b2df8a"/>
<circle cx="1166.7" cy="1358.8" r="2.6" fill="#b15928"/>
<circle cx="1136.6" cy="1404.0" r="2.6" fill="#33a02c"/>
<circle cx="1106.4" cy="1419.1" r="7" fill="#33a02c"/>
<circle cx="1121.5" cy="1419.1" r="9.5" fill="#33a02c"/>
<circle cx="1091.4" cy="1434.1" r="2.6" fill="#b15928"/>
<circle cx="1106.4" cy="1449.2" r="2.6" fill="#fb9a99"/>
<circle cx="1046.2" cy="1464.3" r="2.6" fill="#bebebe"/>
<circle cx="1016.0" cy="1479.3" r="2.6" fill="#bebebe"/>
<circle cx="1091.4" cy="1479.3" r="2.6" fill="#fb9a99"/>
<circle cx="1031.1" cy="1494.4" r="7.2" fill="#b15928"/>
<circle cx="970.8" cy="1554.7" r="2.6" fill="#ff7f00"/>
<circle cx="955.7" cy="1569.8" r="2.6" fill="#ff7f00"/>
<circle cx="985.9" cy="1569.8" r="2.6" fill="#e31a1c"/>
<circle cx="940.7" cy="1584.8" r="9.6" fill="#ff7f00"/>
<circle cx="970.8" cy="1584.8" r="2.6" fill="#e31a1c"/>
<circle cx="985.9" cy="1584.8" r="9.6" fill="#fb9a99"/>
<circle cx="925.6" cy="1599.9" r="2.6" fill="#e31a1c"/>
<circle cx="955.7" cy="1599.9" r="7" fill="#e31a1c"/>
<circle cx="910.5" cy="1615.0" r="7.3" fill="#ffff99"/>
<circle cx="895.5" cy="1630.0" r="2.6" fill="#d2c3a5"/>
<circle cx="880.4" cy="1645.1" r="2.6" fill="#fdbf6f"/>
<circle cx="850.2" cy="1675.2" r="2.6" fill="#fdbf6f"/>
<line x1="821.90" y1="1703.60" x2="76124.90" y2="-73599.40" stroke="#b4b4b4" stroke-opacity="0.8" stroke-width="1.5" stroke-dasharray="6.5 5"/>
</svg>
<line x1="925.60" y1="1703.7" x2="925.60" y2="1707.0" stroke="#333" stroke-width="1.1"/>
<text x="925.60" y="1719.10" text-anchor="middle" class="btick">10</text>
<line x1="1076.30" y1="1703.7" x2="1076.30" y2="1707.0" stroke="#333" stroke-width="1.1"/>
<text x="1076.30" y="1719.10" text-anchor="middle" class="btick">20</text>
<line x1="1227.00" y1="1703.7" x2="1227.00" y2="1707.0" stroke="#333" stroke-width="1.1"/>
<text x="1227.00" y="1719.10" text-anchor="middle" class="btick">30</text>
<line x1="1377.70" y1="1703.7" x2="1377.70" y2="1707.0" stroke="#333" stroke-width="1.1"/>
<text x="1377.70" y="1719.10" text-anchor="middle" class="btick">40</text>
<line x1="818.6" y1="1599.90" x2="821.9" y2="1599.90" stroke="#333" stroke-width="1.1"/>
<text x="815.00" y="1604.00" text-anchor="end" class="btick">10</text>
<line x1="818.6" y1="1449.20" x2="821.9" y2="1449.20" stroke="#333" stroke-width="1.1"/>
<text x="815.00" y="1453.30" text-anchor="end" class="btick">20</text>
<line x1="818.6" y1="1298.50" x2="821.9" y2="1298.50" stroke="#333" stroke-width="1.1"/>
<text x="815.00" y="1302.60" text-anchor="end" class="btick">30</text>
<line x1="818.6" y1="1147.80" x2="821.9" y2="1147.80" stroke="#333" stroke-width="1.1"/>
<text x="815.00" y="1151.90" text-anchor="end" class="btick">40</text>
<text x="1129.2" y="1078.7" text-anchor="middle" class="btitle">AMR</text>
<text y="1134.0" class="ann"><tspan x="850.8" font-style="italic">R</tspan><tspan x="864.0">=</tspan><tspan x="876.6" textLength="32.0" lengthAdjust="spacingAndGlyphs">0.99,</tspan><tspan x="915.4" font-style="italic" textLength="61.9" lengthAdjust="spacingAndGlyphs">p=2.1x10</tspan><tspan x="979.3" dy="-11.7" font-style="italic" font-size="11.6px">-29</tspan></text>
<rect x="128.3" y="1831.1" width="614.30" height="614.40" fill="#ebebeb"/>
<svg x="128.3" y="1831.1" width="614.30" height="614.40" viewBox="128.3 1831.1 614.30 614.40" overflow="hidden">
<line x1="156.20" y1="1831.1" x2="156.20" y2="2445.5" stroke="#fff" stroke-width="0.9"/>
<line x1="270.20" y1="1831.1" x2="270.20" y2="2445.5" stroke="#fff" stroke-width="0.9"/>
<line x1="384.20" y1="1831.1" x2="384.20" y2="2445.5" stroke="#fff" stroke-width="0.9"/>
<line x1="498.20" y1="1831.1" x2="498.20" y2="2445.5" stroke="#fff" stroke-width="0.9"/>
<line x1="612.20" y1="1831.1" x2="612.20" y2="2445.5" stroke="#fff" stroke-width="0.9"/>
<line x1="726.20" y1="1831.1" x2="726.20" y2="2445.5" stroke="#fff" stroke-width="0.9"/>
<line x1="128.3" y1="2417.60" x2="742.6" y2="2417.60" stroke="#fff" stroke-width="0.9"/>
<line x1="128.3" y1="2303.60" x2="742.6" y2="2303.60" stroke="#fff" stroke-width="0.9"/>
<line x1="128.3" y1="2189.60" x2="742.6" y2="2189.60" stroke="#fff" stroke-width="0.9"/>
<line x1="128.3" y1="2075.60" x2="742.6" y2="2075.60" stroke="#fff" stroke-width="0.9"/>
<line x1="128.3" y1="1961.60" x2="742.6" y2="1961.60" stroke="#fff" stroke-width="0.9"/>
<line x1="128.3" y1="1847.60" x2="742.6" y2="1847.60" stroke="#fff" stroke-width="0.9"/>
<line x1="213.20" y1="1831.1" x2="213.20" y2="2445.5" stroke="#fff" stroke-width="1.7"/>
<line x1="327.20" y1="1831.1" x2="327.20" y2="2445.5" stroke="#fff" stroke-width="1.7"/>
<line x1="441.20" y1="1831.1" x2="441.20" y2="2445.5" stroke="#fff" stroke-width="1.7"/>
<line x1="555.20" y1="1831.1" x2="555.20" y2="2445.5" stroke="#fff" stroke-width="1.7"/>
<line x1="669.20" y1="1831.1" x2="669.20" y2="2445.5" stroke="#fff" stroke-width="1.7"/>
<line x1="128.3" y1="2360.60" x2="742.6" y2="2360.60" stroke="#fff" stroke-width="1.7"/>
<line x1="128.3" y1="2246.60" x2="742.6" y2="2246.60" stroke="#fff" stroke-width="1.7"/>
<line x1="128.3" y1="2132.60" x2="742.6" y2="2132.60" stroke="#fff" stroke-width="1.7"/>
<line x1="128.3" y1="2018.60" x2="742.6" y2="2018.60" stroke="#fff" stroke-width="1.7"/>
<line x1="128.3" y1="1904.60" x2="742.6" y2="1904.60" stroke="#fff" stroke-width="1.7"/>
<circle cx="224.6" cy="2326.4" r="7.5" fill="#000"/>
<circle cx="635.0" cy="1916.0" r="7.5" fill="#000"/>
<line x1="128.30" y1="2445.50" x2="57099.20" y2="-54525.40" stroke="#b4b4b4" stroke-opacity="0.8" stroke-width="1.5" stroke-dasharray="6.5 5"/>
</svg>
<line x1="213.20" y1="2445.5" x2="213.20" y2="2448.8" stroke="#333" stroke-width="1.1"/>
<text x="213.20" y="2460.90" text-anchor="middle" class="btick">10</text>
<line x1="327.20" y1="2445.5" x2="327.20" y2="2448.8" stroke="#333" stroke-width="1.1"/>
<text x="327.20" y="2460.90" text-anchor="middle" class="btick">20</text>
<line x1="441.20" y1="2445.5" x2="441.20" y2="2448.8" stroke="#333" stroke-width="1.1"/>
<text x="441.20" y="2460.90" text-anchor="middle" class="btick">30</text>
<line x1="555.20" y1="2445.5" x2="555.20" y2="2448.8" stroke="#333" stroke-width="1.1"/>
<text x="555.20" y="2460.90" text-anchor="middle" class="btick">40</text>
<line x1="669.20" y1="2445.5" x2="669.20" y2="2448.8" stroke="#333" stroke-width="1.1"/>
<text x="669.20" y="2460.90" text-anchor="middle" class="btick">50</text>
<line x1="125.00000000000001" y1="2360.60" x2="128.3" y2="2360.60" stroke="#333" stroke-width="1.1"/>
<text x="121.40" y="2364.70" text-anchor="end" class="btick">10</text>
<line x1="125.00000000000001" y1="2246.60" x2="128.3" y2="2246.60" stroke="#333" stroke-width="1.1"/>
<text x="121.40" y="2250.70" text-anchor="end" class="btick">20</text>
<line x1="125.00000000000001" y1="2132.60" x2="128.3" y2="2132.60" stroke="#333" stroke-width="1.1"/>
<text x="121.40" y="2136.70" text-anchor="end" class="btick">30</text>
<line x1="125.00000000000001" y1="2018.60" x2="128.3" y2="2018.60" stroke="#333" stroke-width="1.1"/>
<text x="121.40" y="2022.70" text-anchor="end" class="btick">40</text>
<line x1="125.00000000000001" y1="1904.60" x2="128.3" y2="1904.60" stroke="#333" stroke-width="1.1"/>
<text x="121.40" y="1908.70" text-anchor="end" class="btick">50</text>
<text x="435.5" y="1819.9" text-anchor="middle" class="btitle">EAS</text>
<rect x="818.7" y="1839" width="620.90" height="598.20" fill="#ebebeb"/>
<svg x="818.7" y="1839" width="620.90" height="598.20" viewBox="818.7 1839 620.90 598.20" overflow="hidden">
<line x1="884.30" y1="1839" x2="884.30" y2="2437.2" stroke="#fff" stroke-width="0.9"/>
<line x1="1034.90" y1="1839" x2="1034.90" y2="2437.2" stroke="#fff" stroke-width="0.9"/>
<line x1="1185.50" y1="1839" x2="1185.50" y2="2437.2" stroke="#fff" stroke-width="0.9"/>
<line x1="1336.10" y1="1839" x2="1336.10" y2="2437.2" stroke="#fff" stroke-width="0.9"/>
<line x1="818.7" y1="2360.75" x2="1439.6" y2="2360.75" stroke="#fff" stroke-width="0.9"/>
<line x1="818.7" y1="2162.65" x2="1439.6" y2="2162.65" stroke="#fff" stroke-width="0.9"/>
<line x1="818.7" y1="1964.55" x2="1439.6" y2="1964.55" stroke="#fff" stroke-width="0.9"/>
<line x1="959.60" y1="1839" x2="959.60" y2="2437.2" stroke="#fff" stroke-width="1.7"/>
<line x1="1110.20" y1="1839" x2="1110.20" y2="2437.2" stroke="#fff" stroke-width="1.7"/>
<line x1="1260.80" y1="1839" x2="1260.80" y2="2437.2" stroke="#fff" stroke-width="1.7"/>
<line x1="1411.40" y1="1839" x2="1411.40" y2="2437.2" stroke="#fff" stroke-width="1.7"/>
<line x1="818.7" y1="2261.70" x2="1439.6" y2="2261.70" stroke="#fff" stroke-width="1.7"/>
<line x1="818.7" y1="2063.60" x2="1439.6" y2="2063.60" stroke="#fff" stroke-width="1.7"/>
<line x1="818.7" y1="1865.50" x2="1439.6" y2="1865.50" stroke="#fff" stroke-width="1.7"/>
<circle cx="846.6" cy="2410.3" r="5.5" fill="#fdbf6f"/>
<circle cx="854.2" cy="2400.4" r="4.3" fill="#fdbf6f"/>
<circle cx="861.7" cy="2390.5" r="5" fill="#ff7f00"/>
<circle cx="869.2" cy="2380.6" r="5.5" fill="#ffff99"/>
<circle cx="876.8" cy="2370.7" r="6.8" fill="#ffff99"/>
<circle cx="876.8" cy="2360.8" r="3.5" fill="#ffff99"/>
<circle cx="884.3" cy="2358.8" r="7" fill="#e31a1c"/>
<circle cx="891.8" cy="2360.8" r="5.5" fill="#e31a1c"/>
<circle cx="899.4" cy="2360.8" r="4.8" fill="#e31a1c"/>
<circle cx="884.3" cy="2360.8" r="3.3" fill="#ffff99"/>
<circle cx="891.8" cy="2350.8" r="6.2" fill="#ff7f00"/>
<circle cx="899.4" cy="2340.9" r="5.2" fill="#ff7f00"/>
<circle cx="906.9" cy="2331.0" r="7" fill="#ff7f00"/>
<circle cx="906.9" cy="2331.0" r="4.5" fill="#bebebe"/>
<circle cx="914.4" cy="2321.1" r="4" fill="#b15928"/>
<circle cx="922.0" cy="2311.2" r="5.5" fill="#b15928"/>
<circle cx="922.0" cy="2311.2" r="2.5" fill="#000000"/>
<circle cx="922.0" cy="2301.3" r="3" fill="#ffff99"/>
<circle cx="929.5" cy="2301.3" r="5.5" fill="#1f78b4"/>
<circle cx="929.5" cy="2301.3" r="4" fill="#bebebe"/>
<circle cx="884.3" cy="2321.1" r="2.8" fill="#1f78b4"/>
<circle cx="854.2" cy="2350.8" r="2.8" fill="#fdbf6f"/>
<circle cx="891.8" cy="2400.4" r="2.8" fill="#fdbf6f"/>
<circle cx="914.4" cy="2350.8" r="6.3" fill="#fb9a99"/>
<circle cx="922.0" cy="2271.6" r="3.6" fill="#1f78b4"/>
<circle cx="937.0" cy="2271.6" r="2.5" fill="#b15928"/>
<circle cx="937.0" cy="2291.4" r="8" fill="#b15928"/>
<circle cx="944.5" cy="2291.4" r="5.5" fill="#b15928"/>
<circle cx="940.8" cy="2295.4" r="6" fill="#b15928"/>
<circle cx="944.5" cy="2281.5" r="6" fill="#b15928"/>
<circle cx="944.5" cy="2281.5" r="3.5" fill="#bebebe"/>
<circle cx="952.1" cy="2271.6" r="6" fill="#b15928"/>
<circle cx="952.1" cy="2271.6" r="3.5" fill="#bebebe"/>
<circle cx="959.6" cy="2261.7" r="5" fill="#b15928"/>
<circle cx="959.6" cy="2261.7" r="3.5" fill="#bebebe"/>
<circle cx="967.1" cy="2251.8" r="5" fill="#b15928"/>
<circle cx="967.1" cy="2251.8" r="3.5" fill="#bebebe"/>
<circle cx="974.7" cy="2241.9" r="9.5" fill="#33a02c"/>
<circle cx="974.7" cy="2232.0" r="3.5" fill="#33a02c"/>
<circle cx="974.7" cy="2241.9" r="3.2" fill="#ff7f00"/>
<circle cx="974.7" cy="2241.9" r="2.2" fill="#ffff99"/>
<circle cx="982.2" cy="2232.0" r="4.5" fill="#b15928"/>
<circle cx="989.7" cy="2222.1" r="4.5" fill="#b15928"/>
<circle cx="989.7" cy="2222.1" r="3" fill="#bebebe"/>
<circle cx="997.2" cy="2212.2" r="3.5" fill="#ffff99"/>
<circle cx="997.2" cy="2212.2" r="2.8" fill="#b15928"/>
<circle cx="1004.8" cy="2202.3" r="5.5" fill="#b15928"/>
<circle cx="1012.3" cy="2192.4" r="5.5" fill="#b15928"/>
<circle cx="1019.8" cy="2182.5" r="4.5" fill="#b15928"/>
<circle cx="982.2" cy="2212.2" r="2.8" fill="#6a3d9a"/>
<circle cx="989.7" cy="2232.0" r="3" fill="#ffff99"/>
<circle cx="1004.8" cy="2232.0" r="3" fill="#ffff99"/>
<circle cx="989.7" cy="2251.8" r="2.8" fill="#fb9a99"/>
<circle cx="974.7" cy="2261.7" r="3.5" fill="#fdbf6f"/>
<circle cx="982.2" cy="2261.7" r="6" fill="#fb9a99"/>
<circle cx="974.7" cy="2271.6" r="3.8" fill="#fb9a99"/>
<circle cx="959.6" cy="2281.5" r="3.5" fill="#fb9a99"/>
<circle cx="967.1" cy="2281.5" r="3.5" fill="#fb9a99"/>
<circle cx="959.6" cy="2291.4" r="2.5" fill="#fb9a99"/>
<circle cx="1004.8" cy="2281.5" r="2.5" fill="#bebebe"/>
<circle cx="997.2" cy="2202.3" r="2.5" fill="#fb9a99"/>
<circle cx="1027.4" cy="2202.3" r="2.5" fill="#fb9a99"/>
<circle cx="1012.3" cy="2212.2" r="2.5" fill="#fb9a99"/>
<circle cx="1019.8" cy="2212.2" r="2.5" fill="#fb9a99"/>
<circle cx="1004.8" cy="2222.1" r="3.5" fill="#fb9a99"/>
<circle cx="1012.3" cy="2222.1" r="3.8" fill="#fb9a99"/>
<circle cx="1012.3" cy="2222.1" r="2.5" fill="#b15928"/>
<circle cx="1095.1" cy="2063.6" r="2.8" fill="#33a02c"/>
<circle cx="1117.7" cy="2063.6" r="2.8" fill="#e31a1c"/>
<circle cx="1125.3" cy="2063.6" r="4.2" fill="#45aaa5"/>
<circle cx="1117.7" cy="2053.7" r="2.8" fill="#45aaa5"/>
<circle cx="1125.3" cy="2053.7" r="2.8" fill="#45aaa5"/>
<circle cx="1080.1" cy="2073.5" r="2.8" fill="#45aaa5"/>
<circle cx="1034.9" cy="2103.2" r="2.8" fill="#45aaa5"/>
<circle cx="1102.7" cy="2073.5" r="4" fill="#b15928"/>
<circle cx="1102.7" cy="2073.5" r="2.8" fill="#45aaa5"/>
<circle cx="1095.1" cy="2083.4" r="5" fill="#45aaa5"/>
<circle cx="1102.7" cy="2083.4" r="4" fill="#45aaa5"/>
<circle cx="1080.1" cy="2093.3" r="2.8" fill="#45aaa5"/>
<circle cx="1087.6" cy="2093.3" r="5.5" fill="#45aaa5"/>
<circle cx="1095.1" cy="2093.3" r="5.5" fill="#45aaa5"/>
<circle cx="1102.7" cy="2093.3" r="2.8" fill="#45aaa5"/>
<circle cx="1080.1" cy="2103.2" r="5" fill="#45aaa5"/>
<circle cx="1087.6" cy="2103.2" r="5" fill="#45aaa5"/>
<circle cx="1095.1" cy="2103.2" r="5" fill="#45aaa5"/>
<circle cx="1102.7" cy="2103.2" r="2.8" fill="#45aaa5"/>
<circle cx="1117.7" cy="2103.2" r="2.8" fill="#33a02c"/>
<circle cx="1072.5" cy="2103.2" r="3" fill="#ffff99"/>
<circle cx="1072.5" cy="2113.1" r="5.5" fill="#b2df8a"/>
<circle cx="1080.1" cy="2113.1" r="5" fill="#45aaa5"/>
<circle cx="1087.6" cy="2113.1" r="5" fill="#45aaa5"/>
<circle cx="1095.1" cy="2113.1" r="4" fill="#45aaa5"/>
<circle cx="1095.1" cy="2123.0" r="4" fill="#45aaa5"/>
<circle cx="1065.0" cy="2123.0" r="2.8" fill="#45aaa5"/>
<circle cx="1057.5" cy="2132.9" r="2.8" fill="#45aaa5"/>
<circle cx="1027.4" cy="2123.0" r="2.8" fill="#b2df8a"/>
<circle cx="1042.4" cy="2132.9" r="2.8" fill="#ffff99"/>
<circle cx="1050.0" cy="2142.8" r="2.8" fill="#6a3d9a"/>
<circle cx="1034.9" cy="2142.8" r="2.8" fill="#b2df8a"/>
<circle cx="1027.4" cy="2152.7" r="2.8" fill="#b2df8a"/>
<circle cx="1034.9" cy="2152.7" r="2.8" fill="#6a3d9a"/>
<circle cx="1042.4" cy="2152.7" r="5" fill="#6a3d9a"/>
<circle cx="1042.4" cy="2152.7" r="4.3" fill="#b15928"/>
<circle cx="1050.0" cy="2152.7" r="4" fill="#b2df8a"/>
<circle cx="1027.4" cy="2162.7" r="3.5" fill="#6a3d9a"/>
<circle cx="1034.9" cy="2162.7" r="5.5" fill="#6a3d9a"/>
<circle cx="1034.9" cy="2162.7" r="4.6" fill="#b15928"/>
<circle cx="1034.9" cy="2162.7" r="2.2" fill="#000000"/>
<circle cx="1042.4" cy="2162.7" r="2.8" fill="#6a3d9a"/>
<circle cx="1057.5" cy="2162.7" r="2.8" fill="#b2df8a"/>
<circle cx="1095.1" cy="2162.7" r="4" fill="#45aaa5"/>
<circle cx="1019.8" cy="2172.6" r="2.8" fill="#6a3d9a"/>
<circle cx="1027.4" cy="2172.6" r="4.5" fill="#b2df8a"/>
<circle cx="1027.4" cy="2172.6" r="4.5" fill="#b15928"/>
<circle cx="1034.9" cy="2172.6" r="2.8" fill="#45aaa5"/>
<circle cx="1042.4" cy="2172.6" r="4" fill="#b2df8a"/>
<circle cx="1019.8" cy="2182.5" r="4" fill="#b15928"/>
<circle cx="1185.5" cy="1915.0" r="2.8" fill="#6a3d9a"/>
<circle cx="1117.7" cy="1924.9" r="2.8" fill="#6a3d9a"/>
<circle cx="1147.8" cy="1944.7" r="2.8" fill="#6a3d9a"/>
<circle cx="1155.4" cy="1944.7" r="2.8" fill="#e31a1c"/>
<circle cx="1162.9" cy="1944.7" r="2.8" fill="#6a3d9a"/>
<circle cx="1178.0" cy="1944.7" r="2.8" fill="#b15928"/>
<circle cx="1147.8" cy="1954.6" r="2.8" fill="#6a3d9a"/>
<circle cx="1147.8" cy="1974.5" r="2.8" fill="#6a3d9a"/>
<circle cx="1170.4" cy="1974.5" r="4.0" fill="#a6cee3"/>
<circle cx="1178.0" cy="1974.5" r="2.8" fill="#a6cee3"/>
<circle cx="1185.5" cy="1974.5" r="2.8" fill="#45aaa5"/>
<circle cx="1147.8" cy="1984.4" r="4.2" fill="#6a3d9a"/>
<circle cx="1155.4" cy="1984.4" r="2.8" fill="#6a3d9a"/>
<circle cx="1170.4" cy="1984.4" r="2.8" fill="#6a3d9a"/>
<circle cx="1170.4" cy="1994.3" r="2.8" fill="#6a3d9a"/>
<circle cx="1178.0" cy="1994.3" r="2.8" fill="#cab2d6"/>
<circle cx="1147.8" cy="2004.2" r="4.6" fill="#6a3d9a"/>
<circle cx="1155.4" cy="2004.2" r="2.8" fill="#6a3d9a"/>
<circle cx="1162.9" cy="2004.2" r="2.8" fill="#6a3d9a"/>
<circle cx="1132.8" cy="2014.1" r="2.8" fill="#b15928"/>
<circle cx="1140.3" cy="2014.1" r="2.8" fill="#6a3d9a"/>
<circle cx="1147.8" cy="2014.1" r="2.8" fill="#6a3d9a"/>
<circle cx="1170.4" cy="2014.1" r="2.8" fill="#6a3d9a"/>
<circle cx="1178.0" cy="2014.1" r="2.8" fill="#a6cee3"/>
<circle cx="1140.3" cy="2024.0" r="3.6" fill="#6a3d9a"/>
<circle cx="1140.3" cy="2024.0" r="3" fill="#b15928"/>
<circle cx="1147.8" cy="2024.0" r="2.8" fill="#a6cee3"/>
<circle cx="1125.3" cy="2033.9" r="4" fill="#b15928"/>
<circle cx="1132.8" cy="2033.9" r="2.8" fill="#6a3d9a"/>
<circle cx="1140.3" cy="2033.9" r="2.8" fill="#45aaa5"/>
<circle cx="1170.4" cy="2033.9" r="2.8" fill="#6a3d9a"/>
<circle cx="1110.2" cy="2043.8" r="2.8" fill="#b15928"/>
<circle cx="1125.3" cy="2043.8" r="2.8" fill="#45aaa5"/>
<circle cx="1132.8" cy="2043.8" r="2.8" fill="#a6cee3"/>
<circle cx="1140.3" cy="2043.8" r="4.2" fill="#6a3d9a"/>
<circle cx="1162.9" cy="2043.8" r="2.8" fill="#6a3d9a"/>
<circle cx="1170.4" cy="2053.7" r="2.8" fill="#6a3d9a"/>
<circle cx="1170.4" cy="2063.6" r="4.2" fill="#6a3d9a"/>
<circle cx="1132.8" cy="2113.1" r="2.8" fill="#6a3d9a"/>
<circle cx="1185.5" cy="2123.0" r="2.8" fill="#6a3d9a"/>
<line x1="826.18" y1="2437.20" x2="38459.00" y2="-47065.20" stroke="#b4b4b4" stroke-opacity="0.8" stroke-width="1.5" stroke-dasharray="6.5 5"/>
</svg>
<line x1="959.60" y1="2437.2" x2="959.60" y2="2440.5" stroke="#333" stroke-width="1.1"/>
<text x="959.60" y="2452.60" text-anchor="middle" class="btick">20</text>
<line x1="1110.20" y1="2437.2" x2="1110.20" y2="2440.5" stroke="#333" stroke-width="1.1"/>
<text x="1110.20" y="2452.60" text-anchor="middle" class="btick">40</text>
<line x1="1260.80" y1="2437.2" x2="1260.80" y2="2440.5" stroke="#333" stroke-width="1.1"/>
<text x="1260.80" y="2452.60" text-anchor="middle" class="btick">60</text>
<line x1="1411.40" y1="2437.2" x2="1411.40" y2="2440.5" stroke="#333" stroke-width="1.1"/>
<text x="1411.40" y="2452.60" text-anchor="middle" class="btick">80</text>
<line x1="815.4000000000001" y1="2261.70" x2="818.7" y2="2261.70" stroke="#333" stroke-width="1.1"/>
<text x="811.80" y="2265.80" text-anchor="end" class="btick">20</text>
<line x1="815.4000000000001" y1="2063.60" x2="818.7" y2="2063.60" stroke="#333" stroke-width="1.1"/>
<text x="811.80" y="2067.70" text-anchor="end" class="btick">40</text>
<line x1="815.4000000000001" y1="1865.50" x2="818.7" y2="1865.50" stroke="#333" stroke-width="1.1"/>
<text x="811.80" y="1869.60" text-anchor="end" class="btick">60</text>
<text x="1129.2" y="1827.1" text-anchor="middle" class="btitle">EUR</text>
<text y="1882.4" class="ann"><tspan x="847.6" font-style="italic">R</tspan><tspan x="860.8">=</tspan><tspan x="873.4" textLength="32.0" lengthAdjust="spacingAndGlyphs">0.98,</tspan><tspan x="912.2" font-style="italic" textLength="61.9" lengthAdjust="spacingAndGlyphs">p=1.7x10</tspan><tspan x="976.1" dy="-11.7" font-style="italic" font-size="11.6px">-168</tspan></text>
<rect x="1191" y="1841.5" width="249" height="233.5" fill="#fff"/>
<rect x="1232.7" y="1849.8" width="199.90" height="199.40" fill="#ebebeb"/>
<svg x="1232.7" y="1849.8" width="199.90" height="199.40" viewBox="1232.7 1849.8 199.90 199.40" overflow="hidden">
<line x1="1268.25" y1="1849.8" x2="1268.25" y2="2049.2" stroke="#fff" stroke-width="0.9"/>
<line x1="1329.55" y1="1849.8" x2="1329.55" y2="2049.2" stroke="#fff" stroke-width="0.9"/>
<line x1="1390.85" y1="1849.8" x2="1390.85" y2="2049.2" stroke="#fff" stroke-width="0.9"/>
<line x1="1232.7" y1="2013.35" x2="1432.6" y2="2013.35" stroke="#fff" stroke-width="0.9"/>
<line x1="1232.7" y1="1952.05" x2="1432.6" y2="1952.05" stroke="#fff" stroke-width="0.9"/>
<line x1="1232.7" y1="1890.75" x2="1432.6" y2="1890.75" stroke="#fff" stroke-width="0.9"/>
<line x1="1237.60" y1="1849.8" x2="1237.60" y2="2049.2" stroke="#fff" stroke-width="1.7"/>
<line x1="1298.90" y1="1849.8" x2="1298.90" y2="2049.2" stroke="#fff" stroke-width="1.7"/>
<line x1="1360.20" y1="1849.8" x2="1360.20" y2="2049.2" stroke="#fff" stroke-width="1.7"/>
<line x1="1421.50" y1="1849.8" x2="1421.50" y2="2049.2" stroke="#fff" stroke-width="1.7"/>
<line x1="1232.7" y1="2044.00" x2="1432.6" y2="2044.00" stroke="#fff" stroke-width="1.7"/>
<line x1="1232.7" y1="1982.70" x2="1432.6" y2="1982.70" stroke="#fff" stroke-width="1.7"/>
<line x1="1232.7" y1="1921.40" x2="1432.6" y2="1921.40" stroke="#fff" stroke-width="1.7"/>
<line x1="1232.7" y1="1860.10" x2="1432.6" y2="1860.10" stroke="#fff" stroke-width="1.7"/>
<circle cx="1244.3" cy="2030.8" r="2.0" fill="#cab2d6"/>
<circle cx="1245.0" cy="2033.0" r="2.0" fill="#1f78b4"/>
<circle cx="1247.4" cy="2031.7" r="2.0" fill="#6a3d9a"/>
<circle cx="1251.7" cy="2027.0" r="2.1" fill="#ff7f00"/>
<circle cx="1256.2" cy="2029.3" r="2.0" fill="#ff7f00"/>
<circle cx="1256.2" cy="2031.7" r="2.0" fill="#ff7f00"/>
<circle cx="1262.1" cy="2028.1" r="2.1" fill="#e31a1c"/>
<circle cx="1262.1" cy="2029.9" r="2.0" fill="#e31a1c"/>
<circle cx="1262.1" cy="2034.8" r="2.1" fill="#fdbf6f"/>
<circle cx="1251.7" cy="2037.3" r="2.0" fill="#6a3d9a"/>
<circle cx="1243.7" cy="2038.1" r="2.5" fill="#fdbf6f"/>
<circle cx="1246.8" cy="2036.6" r="2.5" fill="#fdbf6f"/>
<circle cx="1246.2" cy="2034.2" r="2.5" fill="#fdbf6f"/>
<circle cx="1274.4" cy="2032.4" r="2.0" fill="#33a02c"/>
<circle cx="1274.4" cy="2034.2" r="1.8" fill="#33a02c"/>
<circle cx="1274.4" cy="2031.7" r="1.8" fill="#ff7f00"/>
<circle cx="1280.5" cy="2033.6" r="2.0" fill="#ff7f00"/>
<circle cx="1311.2" cy="2030.5" r="2.0" fill="#ff7f00"/>
<circle cx="1311.2" cy="2033.6" r="2.0" fill="#ff7f00"/>
<circle cx="1323.4" cy="2038.9" r="1.8" fill="#fb9a99"/>
<circle cx="1360.2" cy="2026.8" r="2.1" fill="#ff7f00"/>
<circle cx="1360.2" cy="2032.4" r="2.0" fill="#ff7f00"/>
<circle cx="1421.5" cy="2028.7" r="2.0" fill="#ff7f00"/>
<circle cx="1421.5" cy="2031.7" r="2.1" fill="#ff7f00"/>
<circle cx="1421.5" cy="2036.0" r="1.8" fill="#fb9a99"/>
<line x1="1232.70" y1="2048.90" x2="1850.60" y2="1431.00" stroke="#b4b4b4" stroke-opacity="0.8" stroke-width="1.5" stroke-dasharray="6.5 5"/>
</svg>
<line x1="1237.60" y1="2049.2" x2="1237.60" y2="2052.3999999999996" stroke="#333" stroke-width="1.1"/>
<text x="1237.60" y="2064.80" text-anchor="middle" class="itick">0</text>
<line x1="1298.90" y1="2049.2" x2="1298.90" y2="2052.3999999999996" stroke="#333" stroke-width="1.1"/>
<text x="1298.90" y="2064.80" text-anchor="middle" class="itick">500</text>
<line x1="1360.20" y1="2049.2" x2="1360.20" y2="2052.3999999999996" stroke="#333" stroke-width="1.1"/>
<text x="1360.20" y="2064.80" text-anchor="middle" class="itick">1000</text>
<line x1="1421.50" y1="2049.2" x2="1421.50" y2="2052.3999999999996" stroke="#333" stroke-width="1.1"/>
<text x="1421.50" y="2064.80" text-anchor="middle" class="itick">1500</text>
<line x1="1229.5" y1="2044.00" x2="1232.7" y2="2044.00" stroke="#333" stroke-width="1.1"/>
<text x="1225.30" y="2048.10" text-anchor="end" class="itick">0</text>
<line x1="1229.5" y1="1982.70" x2="1232.7" y2="1982.70" stroke="#333" stroke-width="1.1"/>
<text x="1225.30" y="1986.80" text-anchor="end" class="itick">500</text>
<line x1="1229.5" y1="1921.40" x2="1232.7" y2="1921.40" stroke="#333" stroke-width="1.1"/>
<text x="1225.30" y="1925.50" text-anchor="end" class="itick">1000</text>
<line x1="1229.5" y1="1860.10" x2="1232.7" y2="1860.10" stroke="#333" stroke-width="1.1"/>
<text x="1225.30" y="1864.20" text-anchor="end" class="itick">1500</text>
<text x="1243.1" y="1875" class="iann"><tspan font-style="italic">R</tspan> = 0.37, <tspan font-style="italic">p</tspan> = 0.0012</text>
<rect x="1501.3" y="1831.5" width="614.30" height="614.00" fill="#ebebeb"/>
<svg x="1501.3" y="1831.5" width="614.30" height="614.00" viewBox="1501.3 1831.5 614.30 614.00" overflow="hidden">
<line x1="1529.55" y1="1831.5" x2="1529.55" y2="2445.5" stroke="#fff" stroke-width="0.9"/>
<line x1="1648.25" y1="1831.5" x2="1648.25" y2="2445.5" stroke="#fff" stroke-width="0.9"/>
<line x1="1766.95" y1="1831.5" x2="1766.95" y2="2445.5" stroke="#fff" stroke-width="0.9"/>
<line x1="1885.65" y1="1831.5" x2="1885.65" y2="2445.5" stroke="#fff" stroke-width="0.9"/>
<line x1="2004.35" y1="1831.5" x2="2004.35" y2="2445.5" stroke="#fff" stroke-width="0.9"/>
<line x1="1501.3" y1="2416.85" x2="2115.6" y2="2416.85" stroke="#fff" stroke-width="0.9"/>
<line x1="1501.3" y1="2298.15" x2="2115.6" y2="2298.15" stroke="#fff" stroke-width="0.9"/>
<line x1="1501.3" y1="2179.45" x2="2115.6" y2="2179.45" stroke="#fff" stroke-width="0.9"/>
<line x1="1501.3" y1="2060.75" x2="2115.6" y2="2060.75" stroke="#fff" stroke-width="0.9"/>
<line x1="1501.3" y1="1942.05" x2="2115.6" y2="1942.05" stroke="#fff" stroke-width="0.9"/>
<line x1="1588.90" y1="1831.5" x2="1588.90" y2="2445.5" stroke="#fff" stroke-width="1.7"/>
<line x1="1707.60" y1="1831.5" x2="1707.60" y2="2445.5" stroke="#fff" stroke-width="1.7"/>
<line x1="1826.30" y1="1831.5" x2="1826.30" y2="2445.5" stroke="#fff" stroke-width="1.7"/>
<line x1="1945.00" y1="1831.5" x2="1945.00" y2="2445.5" stroke="#fff" stroke-width="1.7"/>
<line x1="2063.70" y1="1831.5" x2="2063.70" y2="2445.5" stroke="#fff" stroke-width="1.7"/>
<line x1="1501.3" y1="2357.50" x2="2115.6" y2="2357.50" stroke="#fff" stroke-width="1.7"/>
<line x1="1501.3" y1="2238.80" x2="2115.6" y2="2238.80" stroke="#fff" stroke-width="1.7"/>
<line x1="1501.3" y1="2120.10" x2="2115.6" y2="2120.10" stroke="#fff" stroke-width="1.7"/>
<line x1="1501.3" y1="2001.40" x2="2115.6" y2="2001.40" stroke="#fff" stroke-width="1.7"/>
<line x1="1501.3" y1="1882.70" x2="2115.6" y2="1882.70" stroke="#fff" stroke-width="1.7"/>
<circle cx="2028.1" cy="1942.0" r="2.8" fill="#45aaa5"/>
<circle cx="2004.3" cy="1942.0" r="2.8" fill="#6a3d9a"/>
<circle cx="1992.5" cy="1953.9" r="2.8" fill="#6a3d9a"/>
<circle cx="1968.7" cy="1965.8" r="2.8" fill="#6a3d9a"/>
<circle cx="1968.7" cy="1977.7" r="2.8" fill="#45aaa5"/>
<circle cx="1956.9" cy="1989.5" r="2.8" fill="#45aaa5"/>
<circle cx="1968.7" cy="1989.5" r="5" fill="#45aaa5"/>
<circle cx="1956.9" cy="2001.4" r="2.8" fill="#45aaa5"/>
<circle cx="1968.7" cy="2013.3" r="2.8" fill="#33a02c"/>
<circle cx="1933.1" cy="2013.3" r="2.8" fill="#45aaa5"/>
<circle cx="1921.3" cy="2025.1" r="4" fill="#45aaa5"/>
<circle cx="1921.3" cy="2037.0" r="5" fill="#45aaa5"/>
<circle cx="1909.4" cy="2048.9" r="4.5" fill="#45aaa5"/>
<circle cx="1897.5" cy="2048.9" r="2.8" fill="#45aaa5"/>
<circle cx="1897.5" cy="2060.8" r="2.8" fill="#45aaa5"/>
<circle cx="1909.4" cy="2060.8" r="4.5" fill="#45aaa5"/>
<circle cx="1885.7" cy="2060.8" r="5" fill="#b2df8a"/>
<circle cx="1861.9" cy="2072.6" r="2.8" fill="#6a3d9a"/>
<circle cx="1850.0" cy="2096.4" r="5" fill="#b2df8a"/>
<circle cx="1838.2" cy="2108.2" r="6.5" fill="#b2df8a"/>
<circle cx="1826.3" cy="2120.1" r="6.5" fill="#b2df8a"/>
<circle cx="1826.3" cy="2120.1" r="2.8" fill="#6a3d9a"/>
<circle cx="1814.4" cy="2132.0" r="6" fill="#b2df8a"/>
<circle cx="1814.4" cy="2132.0" r="2.8" fill="#6a3d9a"/>
<circle cx="1802.6" cy="2143.8" r="2.8" fill="#fb9a99"/>
<circle cx="1790.7" cy="2155.7" r="4.5" fill="#b2df8a"/>
<circle cx="1802.6" cy="2155.7" r="2.8" fill="#45aaa5"/>
<circle cx="1778.8" cy="2167.6" r="2.8" fill="#fb9a99"/>
<circle cx="1790.7" cy="2179.4" r="4.5" fill="#fb9a99"/>
<circle cx="1778.8" cy="2191.3" r="4.5" fill="#fb9a99"/>
<circle cx="1755.1" cy="2191.3" r="2.8" fill="#fb9a99"/>
<circle cx="1767.0" cy="2203.2" r="2.8" fill="#fb9a99"/>
<circle cx="1731.3" cy="2203.2" r="2.8" fill="#6a3d9a"/>
<circle cx="1743.2" cy="2203.2" r="2.8" fill="#b15928"/>
<circle cx="1731.3" cy="2215.1" r="9.5" fill="#33a02c"/>
<circle cx="1743.2" cy="2215.1" r="7" fill="#33a02c"/>
<circle cx="1743.2" cy="2226.9" r="4.5" fill="#fb9a99"/>
<circle cx="1731.3" cy="2238.8" r="5.5" fill="#fb9a99"/>
<circle cx="1695.7" cy="2250.7" r="2.8" fill="#fb9a99"/>
<circle cx="1719.5" cy="2250.7" r="2.8" fill="#fb9a99"/>
<circle cx="1707.6" cy="2262.5" r="2.8" fill="#fb9a99"/>
<circle cx="1672.0" cy="2274.4" r="5" fill="#b15928"/>
<circle cx="1683.9" cy="2274.4" r="4.5" fill="#b15928"/>
<circle cx="1683.9" cy="2286.3" r="2.8" fill="#fb9a99"/>
<circle cx="1695.7" cy="2286.3" r="2.8" fill="#fb9a99"/>
<circle cx="1660.1" cy="2286.3" r="2.8" fill="#1f78b4"/>
<circle cx="1648.2" cy="2298.1" r="2.8" fill="#1f78b4"/>
<circle cx="1636.4" cy="2310.0" r="2.8" fill="#ff7f00"/>
<circle cx="1648.2" cy="2321.9" r="2.8" fill="#e31a1c"/>
<circle cx="1624.5" cy="2321.9" r="6.5" fill="#ff7f00"/>
<circle cx="1624.5" cy="2333.8" r="4.5" fill="#e31a1c"/>
<circle cx="1612.6" cy="2333.8" r="2.8" fill="#ff7f00"/>
<circle cx="1612.6" cy="2345.6" r="2.8" fill="#e31a1c"/>
<circle cx="1600.8" cy="2345.6" r="8.5" fill="#ff7f00"/>
<circle cx="1636.4" cy="2345.6" r="5.5" fill="#fb9a99"/>
<circle cx="1588.9" cy="2357.5" r="5" fill="#e31a1c"/>
<circle cx="1600.8" cy="2357.5" r="6" fill="#e31a1c"/>
<circle cx="1612.6" cy="2357.5" r="8.5" fill="#e31a1c"/>
<circle cx="1577.0" cy="2369.4" r="5" fill="#ffff99"/>
<circle cx="1565.2" cy="2381.2" r="2.8" fill="#ffff99"/>
<circle cx="1553.3" cy="2393.1" r="4.5" fill="#ff7f00"/>
<circle cx="1541.4" cy="2405.0" r="2.8" fill="#fdbf6f"/>
<line x1="1501.30" y1="2445.10" x2="60820.20" y2="-56873.80" stroke="#b4b4b4" stroke-opacity="0.8" stroke-width="1.5" stroke-dasharray="6.5 5"/>
</svg>
<line x1="1588.90" y1="2445.5" x2="1588.90" y2="2448.8" stroke="#333" stroke-width="1.1"/>
<text x="1588.90" y="2460.90" text-anchor="middle" class="btick">10</text>
<line x1="1707.60" y1="2445.5" x2="1707.60" y2="2448.8" stroke="#333" stroke-width="1.1"/>
<text x="1707.60" y="2460.90" text-anchor="middle" class="btick">20</text>
<line x1="1826.30" y1="2445.5" x2="1826.30" y2="2448.8" stroke="#333" stroke-width="1.1"/>
<text x="1826.30" y="2460.90" text-anchor="middle" class="btick">30</text>
<line x1="1945.00" y1="2445.5" x2="1945.00" y2="2448.8" stroke="#333" stroke-width="1.1"/>
<text x="1945.00" y="2460.90" text-anchor="middle" class="btick">40</text>
<line x1="2063.70" y1="2445.5" x2="2063.70" y2="2448.8" stroke="#333" stroke-width="1.1"/>
<text x="2063.70" y="2460.90" text-anchor="middle" class="btick">50</text>
<line x1="1498.0" y1="2357.50" x2="1501.3" y2="2357.50" stroke="#333" stroke-width="1.1"/>
<text x="1494.40" y="2361.60" text-anchor="end" class="btick">10</text>
<line x1="1498.0" y1="2238.80" x2="1501.3" y2="2238.80" stroke="#333" stroke-width="1.1"/>
<text x="1494.40" y="2242.90" text-anchor="end" class="btick">20</text>
<line x1="1498.0" y1="2120.10" x2="1501.3" y2="2120.10" stroke="#333" stroke-width="1.1"/>
<text x="1494.40" y="2124.20" text-anchor="end" class="btick">30</text>
<line x1="1498.0" y1="2001.40" x2="1501.3" y2="2001.40" stroke="#333" stroke-width="1.1"/>
<text x="1494.40" y="2005.50" text-anchor="end" class="btick">40</text>
<line x1="1498.0" y1="1882.70" x2="1501.3" y2="1882.70" stroke="#333" stroke-width="1.1"/>
<text x="1494.40" y="1886.80" text-anchor="end" class="btick">50</text>
<text x="1808.4" y="1819.5" text-anchor="middle" class="btitle">SAS</text>
<text y="1875.8" class="ann"><tspan x="1530.4" font-style="italic">R</tspan><tspan x="1543.6">=</tspan><tspan x="1556.2" textLength="11.0" lengthAdjust="spacingAndGlyphs">1,</tspan><tspan x="1573.9" font-style="italic" textLength="61.9" lengthAdjust="spacingAndGlyphs">p=1.3x10</tspan><tspan x="1637.8" dy="-11.7" font-style="italic" font-size="11.6px">-80</tspan></text>
<rect x="1789" y="1090.7" width="40.5" height="602.6" fill="#f2f2f2"/>
<circle cx="1808.8" cy="1110.5" r="5.4" fill="#a6cee3"/>
<text x="1842.3" y="1117.8" class="leg">AR</text>
<circle cx="1808.8" cy="1150.7" r="5.4" fill="#1f78b4"/>
<text x="1842.3" y="1158.0" class="leg">ATN1</text>
<circle cx="1808.8" cy="1190.9" r="5.4" fill="#b2df8a"/>
<text x="1842.3" y="1198.2" class="leg">ATXN1</text>
<circle cx="1808.8" cy="1231.1" r="5.4" fill="#33a02c"/>
<text x="1842.3" y="1238.4" class="leg">ATXN2</text>
<circle cx="1808.8" cy="1271.3" r="5.4" fill="#fb9a99"/>
<text x="1842.3" y="1278.6" class="leg">ATXN3</text>
<circle cx="1808.8" cy="1311.5" r="5.4" fill="#e31a1c"/>
<text x="1842.3" y="1318.8" class="leg">ATXN7</text>
<circle cx="1808.8" cy="1351.7" r="5.4" fill="#fdbf6f"/>
<text x="1842.3" y="1359.0" class="leg">C9orf72</text>
<circle cx="1808.8" cy="1391.9" r="5.4" fill="#ff7f00"/>
<text x="1842.3" y="1399.2" class="leg">CACNA1A</text>
<circle cx="1808.8" cy="1432.1" r="5.4" fill="#cab2d6"/>
<text x="1842.3" y="1439.4" class="leg">DMPK</text>
<circle cx="1808.8" cy="1472.3" r="5.4" fill="#6a3d9a"/>
<text x="1842.3" y="1479.6" class="leg">FMR1</text>
<circle cx="1808.8" cy="1512.5" r="5.4" fill="#ffff99"/>
<text x="1842.3" y="1519.8" class="leg">FXN</text>
<circle cx="1808.8" cy="1552.7" r="5.4" fill="#b15928"/>
<text x="1842.3" y="1560.0" class="leg">HTT</text>
<circle cx="1808.8" cy="1592.9" r="5.4" fill="#bebebe"/>
<text x="1842.3" y="1600.2" class="leg">NOTCH2NLC</text>
<circle cx="1808.8" cy="1633.1" r="5.4" fill="#000000"/>
<text x="1842.3" y="1640.4" class="leg">PPP2R2B</text>
<circle cx="1808.8" cy="1673.3" r="5.4" fill="#45aaa5"/>
<text x="1842.3" y="1680.6" class="leg">TBP</text>
<text x="1106.1" y="1779.8" text-anchor="middle" class="bigl">PCR repeat-sizes</text>
<text x="1106.1" y="2528.9" text-anchor="middle" class="bigl">PCR repeat-sizes</text>
<text transform="translate(70.5,1417.2) rotate(-90)" text-anchor="middle" class="bigl" xml:space="preserve">WGS <tspan dx="2.6"> repeat-sizes</tspan></text>
<text transform="translate(70.5,2152.6) rotate(-90)" text-anchor="middle" class="bigl" xml:space="preserve">WGS <tspan dx="2.6"> repeat-sizes</tspan></text>
</svg></body></html>
